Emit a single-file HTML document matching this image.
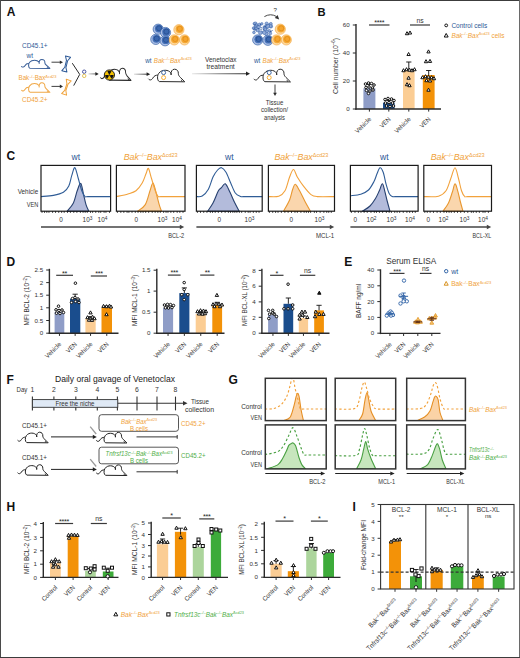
<!DOCTYPE html>
<html><head><meta charset="utf-8"><title>Figure</title>
<style>
html,body{margin:0;padding:0;background:#fff;width:520px;height:658px;overflow:hidden}
svg{display:block}
text{font-family:"Liberation Sans", sans-serif}
</style></head>
<body>
<svg width="520" height="658" viewBox="0 0 520 658" font-family='"Liberation Sans", sans-serif'>
<rect x="0" y="0" width="520" height="658" fill="#fff"/>
<text x="6.70" y="15.90" font-size="12" fill="#111" font-weight="bold">A</text>
<text x="22.00" y="47.60" font-size="7" fill="#2c5896" textLength="25.5" lengthAdjust="spacingAndGlyphs">CD45.1+</text>
<text x="26.50" y="57.80" font-size="6.5" fill="#2c5896">wt</text>
<g transform="translate(21.60,59.40) scale(0.93,0.85)">
<path d="M0,8.3 C1,9.6 2.6,9.2 3.6,7.4 C4.5,5.8 6,4.7 7.9,5" fill="none" stroke="#3a5f98" stroke-width="1.1247320293685128" stroke-linecap="round"/>
<path d="M9,10.4 C7.2,9.6 7,5.5 8.6,3.4 C10,1.5 12,0.9 14,0.9 C16,0.9 17.8,1.8 18.6,3 Q19.1,4 18.9,4.8 C18.5,2 19.8,0 21.8,0 C23.8,0 25.2,1.5 25,3.8 C25,5 25.8,6 26.6,6.8 L30.4,10.6 Z" fill="#fff" stroke="#3a5f98" stroke-width="1.1247320293685128" stroke-linejoin="round"/>
<path d="M27.4,8.9 L28.2,10.5" fill="none" stroke="#3a5f98" stroke-width="0.8997856234948103"/>
</g>
<line x1="51.50" y1="62.20" x2="60.30" y2="62.20" stroke="#2b2b2b" stroke-width="0.9"/>
<path d="M63.00,62.20 L59.80,60.40 L59.80,64.00 Z" fill="#2b2b2b" stroke="none" stroke-width="0"/>
<g transform="translate(66.20,64.00) rotate(14)">
<path d="M-2.6,-7.50 L2.6,-7.50 L0.6,-3.50 L0.6,3.50 L2.6,7.50 L-2.6,7.50 L-0.6,3.50 L-0.6,-3.50 Z" fill="none" stroke="#2c5896" stroke-width="1.0" stroke-linejoin="round"/>
</g>
<text x="18.50" y="80.30" font-size="6.3" fill="#f0a23a" textLength="38" lengthAdjust="spacingAndGlyphs"><tspan>Bak</tspan><tspan dy="-2.4" font-size="4.0">&#8211;/&#8211;</tspan><tspan dy="2.4">Bax</tspan><tspan dy="-2.4" font-size="4.0">&#916;cd23</tspan></text>
<g transform="translate(21.60,82.80) scale(0.93,0.9)">
<path d="M0,8.3 C1,9.6 2.6,9.2 3.6,7.4 C4.5,5.8 6,4.7 7.9,5" fill="none" stroke="#f0a847" stroke-width="1.0930430596399214" stroke-linecap="round"/>
<path d="M9,10.4 C7.2,9.6 7,5.5 8.6,3.4 C10,1.5 12,0.9 14,0.9 C16,0.9 17.8,1.8 18.6,3 Q19.1,4 18.9,4.8 C18.5,2 19.8,0 21.8,0 C23.8,0 25.2,1.5 25,3.8 C25,5 25.8,6 26.6,6.8 L30.4,10.6 Z" fill="#fff" stroke="#f0a847" stroke-width="1.0930430596399214" stroke-linejoin="round"/>
<path d="M27.4,8.9 L28.2,10.5" fill="none" stroke="#f0a847" stroke-width="0.8744344477119372"/>
</g>
<line x1="51.50" y1="86.40" x2="60.30" y2="86.40" stroke="#2b2b2b" stroke-width="0.9"/>
<path d="M63.00,86.40 L59.80,84.60 L59.80,88.20 Z" fill="#2b2b2b" stroke="none" stroke-width="0"/>
<g transform="translate(66.40,87.20) rotate(18)">
<path d="M-2.6,-7.50 L2.6,-7.50 L0.6,-3.50 L0.6,3.50 L2.6,7.50 L-2.6,7.50 L-0.6,3.50 L-0.6,-3.50 Z" fill="none" stroke="#f0a23a" stroke-width="1.0" stroke-linejoin="round"/>
</g>
<text x="22.00" y="101.60" font-size="7" fill="#f0a23a" textLength="25.5" lengthAdjust="spacingAndGlyphs">CD45.2+</text>
<path d="M72.3,63.2 L79.7,74.4 L73.7,85.6" fill="none" stroke="#2a2a2a" stroke-width="1.0"/>
<circle cx="84.20" cy="71.70" r="1.70" fill="none" stroke="#4a55a0" stroke-width="1.0"/>
<circle cx="84.20" cy="75.90" r="1.70" fill="none" stroke="#e5c455" stroke-width="1.0"/>
<line x1="88.50" y1="73.90" x2="96.00" y2="73.90" stroke="url(#ga3)" stroke-width="1.1"/>
<path d="M98.7,73.9 L95.4,72.1 L95.4,75.7 Z" fill="#222" stroke="none" stroke-width="0"/>
<g transform="translate(100.60,68.20) scale(1.0,1.15)">
<path d="M0,8.3 C1,9.6 2.6,9.2 3.6,7.4 C4.5,5.8 6,4.7 7.9,5" fill="none" stroke="#2b2b2b" stroke-width="0.9325048082403138" stroke-linecap="round"/>
<path d="M9,10.4 C7.2,9.6 7,5.5 8.6,3.4 C10,1.5 12,0.9 14,0.9 C16,0.9 17.8,1.8 18.6,3 Q19.1,4 18.9,4.8 C18.5,2 19.8,0 21.8,0 C23.8,0 25.2,1.5 25,3.8 C25,5 25.8,6 26.6,6.8 L30.4,10.6 Z" fill="#fff" stroke="#2b2b2b" stroke-width="0.9325048082403138" stroke-linejoin="round"/>
<path d="M27.4,8.9 L28.2,10.5" fill="none" stroke="#2b2b2b" stroke-width="0.746003846592251"/>
</g>
<circle cx="109.40" cy="75.00" r="5.10" fill="#f6c200" stroke="#111" stroke-width="0.9"/>
<path d="M108.85,74.05 L107.25,71.28 A4.3,4.3 0 0 1 111.55,71.28 L109.95,74.05 Z" fill="#111" stroke="none" stroke-width="0"/>
<path d="M110.50,75.00 L113.70,75.00 A4.3,4.3 0 0 1 111.55,78.72 L109.95,75.95 Z" fill="#111" stroke="none" stroke-width="0"/>
<path d="M108.85,75.95 L107.25,78.72 A4.3,4.3 0 0 1 105.10,75.00 L108.30,75.00 Z" fill="#111" stroke="none" stroke-width="0"/>
<circle cx="109.40" cy="75.00" r="0.75" fill="#111" stroke="none" stroke-width="0"/>
<line x1="134.00" y1="74.20" x2="147.50" y2="74.20" stroke="url(#ga2)" stroke-width="1.1"/>
<path d="M150.2,74.2 L146.6,72.3 L146.6,76.1 Z" fill="#222" stroke="none" stroke-width="0"/>
<g transform="translate(148.60,69.20) scale(1.19,1.19)">
<path d="M0,8.3 C1,9.6 2.6,9.2 3.6,7.4 C4.5,5.8 6,4.7 7.9,5" fill="none" stroke="#2b2b2b" stroke-width="0.8403361344537815" stroke-linecap="round"/>
<path d="M9,10.4 C7.2,9.6 7,5.5 8.6,3.4 C10,1.5 12,0.9 14,0.9 C16,0.9 17.8,1.8 18.6,3 Q19.1,4 18.9,4.8 C18.5,2 19.8,0 21.8,0 C23.8,0 25.2,1.5 25,3.8 C25,5 25.8,6 26.6,6.8 L30.4,10.6 Z" fill="#fff" stroke="#2b2b2b" stroke-width="0.8403361344537815" stroke-linejoin="round"/>
<path d="M27.4,8.9 L28.2,10.5" fill="none" stroke="#2b2b2b" stroke-width="0.6722689075630253"/>
</g>
<circle cx="163.60" cy="72.60" r="2.00" fill="#fff" stroke="#2c5896" stroke-width="0.9"/>
<circle cx="163.60" cy="77.60" r="2.00" fill="#fff" stroke="#f5a623" stroke-width="0.9"/>
<circle cx="158.20" cy="29.20" r="5.10" fill="#a9bde4" stroke="#3a64a8" stroke-width="0.7"/>
<circle cx="158.80" cy="28.60" r="3.88" fill="#4470b7" stroke="none" stroke-width="0"/>
<circle cx="159.10" cy="28.30" r="2.55" fill="#3a67ae" stroke="#24498a" stroke-width="0.7"/>
<circle cx="165.50" cy="32.50" r="5.10" fill="#a9bde4" stroke="#3a64a8" stroke-width="0.7"/>
<circle cx="166.10" cy="31.90" r="3.88" fill="#4470b7" stroke="none" stroke-width="0"/>
<circle cx="166.40" cy="31.60" r="2.55" fill="#3a67ae" stroke="#24498a" stroke-width="0.7"/>
<circle cx="155.80" cy="39.40" r="5.10" fill="#a9bde4" stroke="#3a64a8" stroke-width="0.7"/>
<circle cx="156.40" cy="38.80" r="3.88" fill="#4470b7" stroke="none" stroke-width="0"/>
<circle cx="156.70" cy="38.50" r="2.55" fill="#3a67ae" stroke="#24498a" stroke-width="0.7"/>
<circle cx="165.10" cy="40.80" r="5.10" fill="#a9bde4" stroke="#3a64a8" stroke-width="0.7"/>
<circle cx="165.70" cy="40.20" r="3.88" fill="#4470b7" stroke="none" stroke-width="0"/>
<circle cx="166.00" cy="39.90" r="2.55" fill="#3a67ae" stroke="#24498a" stroke-width="0.7"/>
<circle cx="178.90" cy="29.70" r="5.10" fill="#fdd99f" stroke="#f3ac4a" stroke-width="0.7"/>
<circle cx="179.50" cy="29.10" r="3.88" fill="#f6a935" stroke="none" stroke-width="0"/>
<circle cx="179.80" cy="28.80" r="2.55" fill="#f5a42e" stroke="#de8a14" stroke-width="0.7"/>
<circle cx="174.30" cy="39.90" r="5.10" fill="#fdd99f" stroke="#f3ac4a" stroke-width="0.7"/>
<circle cx="174.90" cy="39.30" r="3.88" fill="#f6a935" stroke="none" stroke-width="0"/>
<circle cx="175.20" cy="39.00" r="2.55" fill="#f5a42e" stroke="#de8a14" stroke-width="0.7"/>
<circle cx="184.50" cy="39.90" r="5.10" fill="#fdd99f" stroke="#f3ac4a" stroke-width="0.7"/>
<circle cx="185.10" cy="39.30" r="3.88" fill="#f6a935" stroke="none" stroke-width="0"/>
<circle cx="185.40" cy="39.00" r="2.55" fill="#f5a42e" stroke="#de8a14" stroke-width="0.7"/>
<text x="145.20" y="62.80" font-size="6.3" fill="#2c5896">wt</text>
<text x="153.80" y="62.80" font-size="6.3" fill="#f0a23a" textLength="38" lengthAdjust="spacingAndGlyphs"><tspan font-style="italic">Bak</tspan><tspan dy="-2.4" font-size="4.0">&#8211;/&#8211;</tspan><tspan dy="2.4" font-style="italic">Bax</tspan><tspan dy="-2.4" font-size="4.0">&#916;cd23</tspan></text>
<text x="220.80" y="61.50" font-size="7.2" fill="#333" text-anchor="middle" textLength="31.4" lengthAdjust="spacingAndGlyphs">Venetoclax</text>
<text x="220.60" y="69.00" font-size="7.2" fill="#333" text-anchor="middle" textLength="28.3" lengthAdjust="spacingAndGlyphs">treatment</text>
<linearGradient id="ga1" gradientUnits="userSpaceOnUse" x1="192" y1="0" x2="250" y2="0"><stop offset="0" stop-color="#e6e6e6"/><stop offset="0.5" stop-color="#777"/><stop offset="1" stop-color="#222"/></linearGradient>
<linearGradient id="ga2" gradientUnits="userSpaceOnUse" x1="134" y1="0" x2="150" y2="0"><stop offset="0" stop-color="#ddd"/><stop offset="1" stop-color="#222"/></linearGradient>
<linearGradient id="ga3" gradientUnits="userSpaceOnUse" x1="88" y1="0" x2="99" y2="0"><stop offset="0" stop-color="#ddd"/><stop offset="1" stop-color="#333"/></linearGradient>
<line x1="192.00" y1="73.70" x2="247.00" y2="73.70" stroke="url(#ga1)" stroke-width="1.1"/>
<path d="M250,73.7 L246,71.6 L246,75.8 Z" fill="#222" stroke="none" stroke-width="0"/>
<circle cx="259.64" cy="24.66" r="1.62" fill="#93acd9" stroke="#3d67ab" stroke-width="0.55"/>
<circle cx="254.48" cy="28.89" r="1.39" fill="#93acd9" stroke="#3d67ab" stroke-width="0.55"/>
<circle cx="254.19" cy="28.58" r="1.13" fill="#93acd9" stroke="#3d67ab" stroke-width="0.55"/>
<circle cx="261.89" cy="23.77" r="1.17" fill="#93acd9" stroke="#3d67ab" stroke-width="0.55"/>
<circle cx="261.70" cy="32.10" r="1.20" fill="#93acd9" stroke="#3d67ab" stroke-width="0.55"/>
<circle cx="257.58" cy="29.90" r="1.86" fill="#93acd9" stroke="#3d67ab" stroke-width="0.55"/>
<circle cx="264.83" cy="27.36" r="1.88" fill="#93acd9" stroke="#3d67ab" stroke-width="0.55"/>
<circle cx="253.95" cy="32.44" r="1.33" fill="#93acd9" stroke="#3d67ab" stroke-width="0.55"/>
<circle cx="255.96" cy="24.30" r="1.35" fill="#93acd9" stroke="#3d67ab" stroke-width="0.55"/>
<circle cx="269.73" cy="24.99" r="1.57" fill="#93acd9" stroke="#3d67ab" stroke-width="0.55"/>
<circle cx="266.10" cy="27.10" r="1.54" fill="#93acd9" stroke="#3d67ab" stroke-width="0.55"/>
<circle cx="254.29" cy="23.66" r="1.26" fill="#93acd9" stroke="#3d67ab" stroke-width="0.55"/>
<circle cx="266.95" cy="27.70" r="1.35" fill="#93acd9" stroke="#3d67ab" stroke-width="0.55"/>
<circle cx="265.00" cy="27.99" r="1.34" fill="#93acd9" stroke="#3d67ab" stroke-width="0.55"/>
<circle cx="269.28" cy="30.69" r="1.30" fill="#93acd9" stroke="#3d67ab" stroke-width="0.55"/>
<circle cx="264.78" cy="28.78" r="1.80" fill="#93acd9" stroke="#3d67ab" stroke-width="0.55"/>
<circle cx="267.95" cy="26.17" r="1.88" fill="#93acd9" stroke="#3d67ab" stroke-width="0.55"/>
<circle cx="255.42" cy="27.60" r="1.71" fill="#93acd9" stroke="#3d67ab" stroke-width="0.55"/>
<circle cx="256.12" cy="28.38" r="1.13" fill="#93acd9" stroke="#3d67ab" stroke-width="0.55"/>
<circle cx="266.70" cy="31.41" r="1.56" fill="#93acd9" stroke="#3d67ab" stroke-width="0.55"/>
<circle cx="270.95" cy="26.45" r="1.66" fill="#93acd9" stroke="#3d67ab" stroke-width="0.55"/>
<circle cx="265.18" cy="29.38" r="1.46" fill="#93acd9" stroke="#3d67ab" stroke-width="0.55"/>
<circle cx="270.22" cy="33.39" r="1.48" fill="#93acd9" stroke="#3d67ab" stroke-width="0.55"/>
<circle cx="266.62" cy="23.67" r="1.66" fill="#93acd9" stroke="#3d67ab" stroke-width="0.55"/>
<circle cx="266.27" cy="33.92" r="1.76" fill="#93acd9" stroke="#3d67ab" stroke-width="0.55"/>
<circle cx="258.83" cy="27.24" r="1.63" fill="#93acd9" stroke="#3d67ab" stroke-width="0.55"/>
<circle cx="253.46" cy="28.08" r="1.23" fill="#93acd9" stroke="#3d67ab" stroke-width="0.55"/>
<circle cx="255.40" cy="23.65" r="1.71" fill="#93acd9" stroke="#3d67ab" stroke-width="0.55"/>
<circle cx="255.65" cy="25.72" r="1.41" fill="#93acd9" stroke="#3d67ab" stroke-width="0.55"/>
<circle cx="270.86" cy="23.89" r="1.46" fill="#93acd9" stroke="#3d67ab" stroke-width="0.55"/>
<circle cx="264.26" cy="32.72" r="1.76" fill="#93acd9" stroke="#3d67ab" stroke-width="0.55"/>
<circle cx="270.71" cy="26.06" r="1.43" fill="#93acd9" stroke="#3d67ab" stroke-width="0.55"/>
<circle cx="260.35" cy="32.73" r="1.87" fill="#93acd9" stroke="#3d67ab" stroke-width="0.55"/>
<circle cx="256.09" cy="24.94" r="1.29" fill="#93acd9" stroke="#3d67ab" stroke-width="0.55"/>
<circle cx="258.43" cy="28.61" r="0.55" fill="#2d5598" stroke="none" stroke-width="0"/>
<circle cx="265.19" cy="26.50" r="0.55" fill="#2d5598" stroke="none" stroke-width="0"/>
<circle cx="254.08" cy="27.98" r="0.55" fill="#2d5598" stroke="none" stroke-width="0"/>
<circle cx="261.02" cy="29.38" r="0.55" fill="#2d5598" stroke="none" stroke-width="0"/>
<circle cx="272.11" cy="30.56" r="0.55" fill="#2d5598" stroke="none" stroke-width="0"/>
<circle cx="263.79" cy="29.87" r="0.55" fill="#2d5598" stroke="none" stroke-width="0"/>
<circle cx="266.85" cy="24.51" r="0.55" fill="#2d5598" stroke="none" stroke-width="0"/>
<circle cx="271.09" cy="31.41" r="0.55" fill="#2d5598" stroke="none" stroke-width="0"/>
<circle cx="270.62" cy="31.58" r="0.55" fill="#2d5598" stroke="none" stroke-width="0"/>
<circle cx="261.46" cy="27.79" r="0.55" fill="#2d5598" stroke="none" stroke-width="0"/>
<circle cx="255.97" cy="30.03" r="0.55" fill="#2d5598" stroke="none" stroke-width="0"/>
<circle cx="255.18" cy="24.64" r="0.55" fill="#2d5598" stroke="none" stroke-width="0"/>
<circle cx="257.97" cy="25.54" r="0.55" fill="#2d5598" stroke="none" stroke-width="0"/>
<circle cx="260.46" cy="24.50" r="0.55" fill="#2d5598" stroke="none" stroke-width="0"/>
<circle cx="257.70" cy="39.90" r="5.10" fill="#a9bde4" stroke="#3a64a8" stroke-width="0.7"/>
<circle cx="258.30" cy="39.30" r="3.88" fill="#4470b7" stroke="none" stroke-width="0"/>
<circle cx="258.60" cy="39.00" r="2.55" fill="#3a67ae" stroke="#24498a" stroke-width="0.7"/>
<circle cx="267.90" cy="40.30" r="5.10" fill="#a9bde4" stroke="#3a64a8" stroke-width="0.7"/>
<circle cx="268.50" cy="39.70" r="3.88" fill="#4470b7" stroke="none" stroke-width="0"/>
<circle cx="268.80" cy="39.40" r="2.55" fill="#3a67ae" stroke="#24498a" stroke-width="0.7"/>
<circle cx="280.30" cy="29.20" r="5.10" fill="#fdd99f" stroke="#f3ac4a" stroke-width="0.7"/>
<circle cx="280.90" cy="28.60" r="3.88" fill="#f6a935" stroke="none" stroke-width="0"/>
<circle cx="281.20" cy="28.30" r="2.55" fill="#f5a42e" stroke="#de8a14" stroke-width="0.7"/>
<circle cx="276.60" cy="39.90" r="5.10" fill="#fdd99f" stroke="#f3ac4a" stroke-width="0.7"/>
<circle cx="277.20" cy="39.30" r="3.88" fill="#f6a935" stroke="none" stroke-width="0"/>
<circle cx="277.50" cy="39.00" r="2.55" fill="#f5a42e" stroke="#de8a14" stroke-width="0.7"/>
<circle cx="286.30" cy="39.90" r="5.10" fill="#fdd99f" stroke="#f3ac4a" stroke-width="0.7"/>
<circle cx="286.90" cy="39.30" r="3.88" fill="#f6a935" stroke="none" stroke-width="0"/>
<circle cx="287.20" cy="39.00" r="2.55" fill="#f5a42e" stroke="#de8a14" stroke-width="0.7"/>
<text x="275.30" y="11.60" font-size="6.2" fill="#333" text-anchor="middle">?</text>
<path d="M264.4,16.6 Q270.5,13 276.5,16.5" fill="none" stroke="#333" stroke-width="0.9"/>
<path d="M279.2,19.4 L274.8,17.9 L277.6,15.0 Z" fill="#333" stroke="none" stroke-width="0"/>
<text x="254.00" y="62.80" font-size="6.3" fill="#2c5896">wt</text>
<text x="262.50" y="62.80" font-size="6.3" fill="#f0a23a" textLength="38" lengthAdjust="spacingAndGlyphs"><tspan font-style="italic">Bak</tspan><tspan dy="-2.4" font-size="4.0">&#8211;/&#8211;</tspan><tspan dy="2.4" font-style="italic">Bax</tspan><tspan dy="-2.4" font-size="4.0">&#916;cd23</tspan></text>
<g transform="translate(254.00,69.20) scale(1.2,1.2)">
<path d="M0,8.3 C1,9.6 2.6,9.2 3.6,7.4 C4.5,5.8 6,4.7 7.9,5" fill="none" stroke="#2b2b2b" stroke-width="0.8333333333333334" stroke-linecap="round"/>
<path d="M9,10.4 C7.2,9.6 7,5.5 8.6,3.4 C10,1.5 12,0.9 14,0.9 C16,0.9 17.8,1.8 18.6,3 Q19.1,4 18.9,4.8 C18.5,2 19.8,0 21.8,0 C23.8,0 25.2,1.5 25,3.8 C25,5 25.8,6 26.6,6.8 L30.4,10.6 Z" fill="#fff" stroke="#2b2b2b" stroke-width="0.8333333333333334" stroke-linejoin="round"/>
<path d="M27.4,8.9 L28.2,10.5" fill="none" stroke="#2b2b2b" stroke-width="0.6666666666666667"/>
</g>
<circle cx="269.20" cy="72.60" r="2.00" fill="#fff" stroke="#2c5896" stroke-width="0.9"/>
<circle cx="269.20" cy="77.60" r="2.00" fill="#fff" stroke="#f5a623" stroke-width="0.9"/>
<line x1="275.00" y1="84.50" x2="275.00" y2="93.30" stroke="#2b2b2b" stroke-width="0.9"/>
<path d="M275.00,96.00 L273.20,92.80 L276.80,92.80 Z" fill="#2b2b2b" stroke="none" stroke-width="0"/>
<text x="274.50" y="104.80" font-size="7" fill="#333" text-anchor="middle" textLength="17.5" lengthAdjust="spacingAndGlyphs">Tissue</text>
<text x="274.50" y="112.40" font-size="7" fill="#333" text-anchor="middle" textLength="27" lengthAdjust="spacingAndGlyphs">collection/</text>
<text x="274.50" y="120.00" font-size="7" fill="#333" text-anchor="middle" textLength="21" lengthAdjust="spacingAndGlyphs">analysis</text>
<text x="317.40" y="16.30" font-size="11.2" fill="#111" font-weight="bold">B</text>
<rect x="363.40" y="88.30" width="12.00" height="20.70" fill="#8f9dc7" stroke="none" stroke-width="1"/>
<rect x="383.00" y="102.70" width="11.60" height="6.30" fill="#1a4d8d" stroke="none" stroke-width="1"/>
<rect x="403.00" y="70.50" width="11.60" height="38.50" fill="#fbcd94" stroke="none" stroke-width="1"/>
<rect x="422.80" y="75.00" width="11.80" height="34.00" fill="#f39208" stroke="none" stroke-width="1"/>
<line x1="356.00" y1="24.00" x2="356.00" y2="109.70" stroke="#2b2b2b" stroke-width="1.4"/>
<line x1="355.30" y1="109.00" x2="441.00" y2="109.00" stroke="#2b2b2b" stroke-width="1.4"/>
<line x1="352.80" y1="25.00" x2="356.00" y2="25.00" stroke="#2b2b2b" stroke-width="1.0"/>
<text x="349.70" y="27.20" font-size="6.2" fill="#333" text-anchor="end">60</text>
<line x1="352.80" y1="53.00" x2="356.00" y2="53.00" stroke="#2b2b2b" stroke-width="1.0"/>
<text x="349.70" y="55.20" font-size="6.2" fill="#333" text-anchor="end">40</text>
<line x1="352.80" y1="81.00" x2="356.00" y2="81.00" stroke="#2b2b2b" stroke-width="1.0"/>
<text x="349.70" y="83.20" font-size="6.2" fill="#333" text-anchor="end">20</text>
<line x1="352.80" y1="109.00" x2="356.00" y2="109.00" stroke="#2b2b2b" stroke-width="1.0"/>
<text x="349.70" y="111.20" font-size="6.2" fill="#333" text-anchor="end">0</text>
<line x1="369.40" y1="109.00" x2="369.40" y2="111.60" stroke="#2b2b2b" stroke-width="1.0"/>
<line x1="388.80" y1="109.00" x2="388.80" y2="111.60" stroke="#2b2b2b" stroke-width="1.0"/>
<line x1="408.80" y1="109.00" x2="408.80" y2="111.60" stroke="#2b2b2b" stroke-width="1.0"/>
<line x1="428.70" y1="109.00" x2="428.70" y2="111.60" stroke="#2b2b2b" stroke-width="1.0"/>
<text x="337.60" y="66.00" font-size="7" fill="#333" text-anchor="middle" transform="rotate(-90 337.60 66.00)" textLength="56" lengthAdjust="spacingAndGlyphs">Cell number (10<tspan dy="-2.4" font-size="4.5">&#8211;6</tspan><tspan dy="2.4">)</tspan></text>
<line x1="369.00" y1="25.00" x2="389.50" y2="25.00" stroke="#3a3a3a" stroke-width="1.2"/>
<text x="379.25" y="25.30" font-size="7.2" fill="#222" text-anchor="middle" letter-spacing="-0.3">****</text>
<line x1="410.00" y1="25.00" x2="430.00" y2="25.00" stroke="#3a3a3a" stroke-width="1.2"/>
<text x="420.00" y="22.50" font-size="6.8" fill="#333" text-anchor="middle">ns</text>
<line x1="369.40" y1="88.30" x2="369.40" y2="84.50" stroke="#111" stroke-width="0.9"/>
<line x1="366.80" y1="84.50" x2="372.00" y2="84.50" stroke="#111" stroke-width="0.9"/>
<line x1="388.80" y1="102.70" x2="388.80" y2="100.50" stroke="#111" stroke-width="0.9"/>
<line x1="386.20" y1="100.50" x2="391.40" y2="100.50" stroke="#111" stroke-width="0.9"/>
<line x1="408.80" y1="70.50" x2="408.80" y2="62.00" stroke="#111" stroke-width="0.9"/>
<line x1="406.20" y1="62.00" x2="411.40" y2="62.00" stroke="#111" stroke-width="0.9"/>
<line x1="428.70" y1="75.00" x2="428.70" y2="70.50" stroke="#111" stroke-width="0.9"/>
<line x1="426.10" y1="70.50" x2="431.30" y2="70.50" stroke="#111" stroke-width="0.9"/>
<circle cx="365.50" cy="84.00" r="1.28" fill="#fff" stroke="#111" stroke-width="1.0"/>
<circle cx="368.50" cy="83.00" r="1.28" fill="#fff" stroke="#111" stroke-width="1.0"/>
<circle cx="371.50" cy="83.50" r="1.28" fill="#fff" stroke="#111" stroke-width="1.0"/>
<circle cx="374.00" cy="85.00" r="1.28" fill="#fff" stroke="#111" stroke-width="1.0"/>
<circle cx="366.00" cy="87.50" r="1.28" fill="#fff" stroke="#111" stroke-width="1.0"/>
<circle cx="369.00" cy="87.00" r="1.28" fill="#fff" stroke="#111" stroke-width="1.0"/>
<circle cx="372.50" cy="88.00" r="1.28" fill="#fff" stroke="#111" stroke-width="1.0"/>
<circle cx="366.50" cy="90.50" r="1.28" fill="#fff" stroke="#111" stroke-width="1.0"/>
<circle cx="370.00" cy="91.00" r="1.28" fill="#fff" stroke="#111" stroke-width="1.0"/>
<circle cx="373.00" cy="90.00" r="1.28" fill="#fff" stroke="#111" stroke-width="1.0"/>
<circle cx="368.50" cy="93.50" r="1.28" fill="#fff" stroke="#111" stroke-width="1.0"/>
<circle cx="385.00" cy="99.50" r="1.28" fill="#fff" stroke="#111" stroke-width="1.0"/>
<circle cx="388.00" cy="98.50" r="1.28" fill="#fff" stroke="#111" stroke-width="1.0"/>
<circle cx="391.50" cy="99.00" r="1.28" fill="#fff" stroke="#111" stroke-width="1.0"/>
<circle cx="394.00" cy="100.50" r="1.28" fill="#fff" stroke="#111" stroke-width="1.0"/>
<circle cx="385.50" cy="103.00" r="1.28" fill="#fff" stroke="#111" stroke-width="1.0"/>
<circle cx="389.00" cy="102.50" r="1.28" fill="#fff" stroke="#111" stroke-width="1.0"/>
<circle cx="392.50" cy="103.00" r="1.28" fill="#fff" stroke="#111" stroke-width="1.0"/>
<circle cx="386.50" cy="106.00" r="1.28" fill="#fff" stroke="#111" stroke-width="1.0"/>
<circle cx="390.00" cy="106.50" r="1.28" fill="#fff" stroke="#111" stroke-width="1.0"/>
<circle cx="393.50" cy="106.00" r="1.28" fill="#fff" stroke="#111" stroke-width="1.0"/>
<path d="M407.00,31.67 L408.67,34.72 L405.33,34.72 Z" fill="#fff" stroke="#111" stroke-width="1.0"/>
<path d="M410.00,30.97 L411.67,34.02 L408.33,34.02 Z" fill="#fff" stroke="#111" stroke-width="1.0"/>
<path d="M408.60,52.47 L410.27,55.52 L406.93,55.52 Z" fill="#fff" stroke="#111" stroke-width="1.0"/>
<path d="M403.50,68.67 L405.17,71.72 L401.83,71.72 Z" fill="#fff" stroke="#111" stroke-width="1.0"/>
<path d="M406.50,67.67 L408.17,70.72 L404.83,70.72 Z" fill="#fff" stroke="#111" stroke-width="1.0"/>
<path d="M409.50,68.17 L411.17,71.22 L407.83,71.22 Z" fill="#fff" stroke="#111" stroke-width="1.0"/>
<path d="M412.00,68.67 L413.67,71.72 L410.33,71.72 Z" fill="#fff" stroke="#111" stroke-width="1.0"/>
<path d="M414.50,67.67 L416.17,70.72 L412.83,70.72 Z" fill="#fff" stroke="#111" stroke-width="1.0"/>
<path d="M408.60,76.17 L410.27,79.22 L406.93,79.22 Z" fill="#fff" stroke="#111" stroke-width="1.0"/>
<path d="M407.00,82.67 L408.67,85.72 L405.33,85.72 Z" fill="#fff" stroke="#111" stroke-width="1.0"/>
<path d="M409.50,83.67 L411.17,86.72 L407.83,86.72 Z" fill="#fff" stroke="#111" stroke-width="1.0"/>
<path d="M428.50,49.87 L430.17,52.92 L426.83,52.92 Z" fill="#fff" stroke="#111" stroke-width="1.0"/>
<path d="M426.00,59.67 L427.67,62.72 L424.33,62.72 Z" fill="#fff" stroke="#111" stroke-width="1.0"/>
<path d="M430.00,59.37 L431.67,62.42 L428.33,62.42 Z" fill="#fff" stroke="#111" stroke-width="1.0"/>
<path d="M422.50,75.67 L424.17,78.72 L420.83,78.72 Z" fill="#fff" stroke="#111" stroke-width="1.0"/>
<path d="M425.50,74.67 L427.17,77.72 L423.83,77.72 Z" fill="#fff" stroke="#111" stroke-width="1.0"/>
<path d="M428.50,75.17 L430.17,78.22 L426.83,78.22 Z" fill="#fff" stroke="#111" stroke-width="1.0"/>
<path d="M431.50,75.67 L433.17,78.72 L429.83,78.72 Z" fill="#fff" stroke="#111" stroke-width="1.0"/>
<path d="M434.00,76.67 L435.67,79.72 L432.33,79.72 Z" fill="#fff" stroke="#111" stroke-width="1.0"/>
<path d="M426.50,78.67 L428.17,81.72 L424.83,81.72 Z" fill="#fff" stroke="#111" stroke-width="1.0"/>
<path d="M430.00,78.97 L431.67,82.02 L428.33,82.02 Z" fill="#fff" stroke="#111" stroke-width="1.0"/>
<path d="M428.50,88.17 L430.17,91.22 L426.83,91.22 Z" fill="#fff" stroke="#111" stroke-width="1.0"/>
<text x="371.70" y="119.60" font-size="6.4" fill="#333" text-anchor="end" transform="rotate(-45 371.70 119.60)" textLength="20.1" lengthAdjust="spacingAndGlyphs">Vehicle</text>
<text x="391.10" y="119.60" font-size="6.4" fill="#333" text-anchor="end" transform="rotate(-45 391.10 119.60)" textLength="12.5" lengthAdjust="spacingAndGlyphs">VEN</text>
<text x="411.10" y="119.60" font-size="6.4" fill="#333" text-anchor="end" transform="rotate(-45 411.10 119.60)" textLength="20.1" lengthAdjust="spacingAndGlyphs">Vehicle</text>
<text x="431.00" y="119.60" font-size="6.4" fill="#333" text-anchor="end" transform="rotate(-45 431.00 119.60)" textLength="12.5" lengthAdjust="spacingAndGlyphs">VEN</text>
<circle cx="446.20" cy="25.40" r="1.41" fill="#fff" stroke="#111" stroke-width="1.0"/>
<text x="451.40" y="27.90" font-size="7" fill="#2c5896" textLength="35.8" lengthAdjust="spacingAndGlyphs">Control cells</text>
<path d="M446.20,33.46 L448.16,37.03 L444.24,37.03 Z" fill="#fff" stroke="#111" stroke-width="1.0"/>
<text x="451.40" y="38.00" font-size="7" fill="#f0a23a" textLength="53" lengthAdjust="spacingAndGlyphs"><tspan font-style="italic">Bak</tspan><tspan dy="-2.6" font-size="4.2">&#8211;/&#8211;</tspan><tspan dy="2.6" font-style="italic">Bax</tspan><tspan dy="-2.6" font-size="4.2">&#916;cd23</tspan><tspan dy="2.6"> cells</tspan></text>
<text x="6.40" y="159.50" font-size="12" fill="#111" font-weight="bold">C</text>
<path d="M67.20,211.20 C68.23,209.83 71.73,206.40 73.40,203.00 C75.07,199.60 75.97,194.07 77.20,190.80 C78.43,187.53 79.77,182.90 80.80,183.40 C81.83,183.90 82.53,190.27 83.40,193.80 C84.27,197.33 85.10,201.70 86.00,204.60 C86.90,207.50 88.33,210.10 88.80,211.20 Z" fill="#b3bbdb" stroke="#27406f" stroke-width="1.1" stroke-linejoin="round"/>
<path d="M41.00,196.60 C43.07,196.40 49.67,196.12 53.40,195.40 C57.13,194.68 60.83,193.87 63.40,192.30 C65.97,190.73 67.40,188.82 68.80,186.00 C70.20,183.18 70.78,178.45 71.80,175.40 C72.82,172.35 73.82,167.18 74.90,167.70 C75.98,168.22 77.15,174.65 78.30,178.50 C79.45,182.35 80.70,187.82 81.80,190.80 C82.90,193.78 83.87,195.43 84.90,196.40 C85.93,197.37 83.72,196.57 88.00,196.60 C92.28,196.63 106.83,196.60 110.60,196.60" fill="none" stroke="#2f5c96" stroke-width="1.1" stroke-linejoin="round"/>
<rect x="41.00" y="165.40" width="69.60" height="45.80" fill="none" stroke="#1a1a1a" stroke-width="1.2"/>
<line x1="42.00" y1="211.20" x2="42.00" y2="212.90" stroke="#111" stroke-width="0.8"/>
<line x1="44.56" y1="211.20" x2="44.56" y2="212.90" stroke="#111" stroke-width="0.8"/>
<line x1="46.82" y1="211.20" x2="46.82" y2="212.90" stroke="#111" stroke-width="0.8"/>
<line x1="48.96" y1="211.20" x2="48.96" y2="212.90" stroke="#111" stroke-width="0.8"/>
<line x1="52.58" y1="211.20" x2="52.58" y2="212.90" stroke="#111" stroke-width="0.8"/>
<line x1="55.54" y1="211.20" x2="55.54" y2="212.90" stroke="#111" stroke-width="0.8"/>
<line x1="58.72" y1="211.20" x2="58.72" y2="212.90" stroke="#111" stroke-width="0.8"/>
<line x1="61.63" y1="211.20" x2="61.63" y2="212.90" stroke="#111" stroke-width="0.8"/>
<line x1="64.19" y1="211.20" x2="64.19" y2="212.90" stroke="#111" stroke-width="0.8"/>
<line x1="67.46" y1="211.20" x2="67.46" y2="212.90" stroke="#111" stroke-width="0.8"/>
<line x1="70.41" y1="211.20" x2="70.41" y2="212.90" stroke="#111" stroke-width="0.8"/>
<line x1="73.77" y1="211.20" x2="73.77" y2="212.90" stroke="#111" stroke-width="0.8"/>
<line x1="76.89" y1="211.20" x2="76.89" y2="212.90" stroke="#111" stroke-width="0.8"/>
<line x1="80.37" y1="211.20" x2="80.37" y2="212.90" stroke="#111" stroke-width="0.8"/>
<line x1="83.05" y1="211.20" x2="83.05" y2="212.90" stroke="#111" stroke-width="0.8"/>
<line x1="85.16" y1="211.20" x2="85.16" y2="212.90" stroke="#111" stroke-width="0.8"/>
<line x1="87.26" y1="211.20" x2="87.26" y2="212.90" stroke="#111" stroke-width="0.8"/>
<line x1="90.51" y1="211.20" x2="90.51" y2="212.90" stroke="#111" stroke-width="0.8"/>
<line x1="92.64" y1="211.20" x2="92.64" y2="212.90" stroke="#111" stroke-width="0.8"/>
<line x1="95.75" y1="211.20" x2="95.75" y2="212.90" stroke="#111" stroke-width="0.8"/>
<line x1="98.79" y1="211.20" x2="98.79" y2="212.90" stroke="#111" stroke-width="0.8"/>
<line x1="100.71" y1="211.20" x2="100.71" y2="212.90" stroke="#111" stroke-width="0.8"/>
<line x1="104.08" y1="211.20" x2="104.08" y2="212.90" stroke="#111" stroke-width="0.8"/>
<line x1="105.95" y1="211.20" x2="105.95" y2="212.90" stroke="#111" stroke-width="0.8"/>
<line x1="109.48" y1="211.20" x2="109.48" y2="212.90" stroke="#111" stroke-width="0.8"/>
<text x="75.80" y="160.20" font-size="8.6" fill="#2c5896" text-anchor="middle">wt</text>
<path d="M137.60,211.20 C138.88,210.10 143.23,208.00 145.30,204.60 C147.37,201.20 148.72,194.40 150.00,190.80 C151.28,187.20 152.00,182.75 153.00,183.00 C154.00,183.25 154.97,188.70 156.00,192.30 C157.03,195.90 158.28,201.45 159.20,204.60 C160.12,207.75 161.12,210.10 161.50,211.20 Z" fill="#fad6ad" stroke="#e8962e" stroke-width="1.1" stroke-linejoin="round"/>
<path d="M116.40,196.60 C118.33,196.17 124.73,194.97 128.00,194.00 C131.27,193.03 133.63,192.63 136.00,190.80 C138.37,188.97 140.53,185.83 142.20,183.00 C143.87,180.17 144.97,176.22 146.00,173.80 C147.03,171.38 147.48,167.72 148.40,168.50 C149.32,169.28 150.35,174.78 151.50,178.50 C152.65,182.22 154.22,187.82 155.30,190.80 C156.38,193.78 157.05,195.43 158.00,196.40 C158.95,197.37 156.50,196.57 161.00,196.60 C165.50,196.63 181.00,196.60 185.00,196.60" fill="none" stroke="#f2a23c" stroke-width="1.1" stroke-linejoin="round"/>
<rect x="116.40" y="165.40" width="68.60" height="45.80" fill="none" stroke="#1a1a1a" stroke-width="1.2"/>
<line x1="117.40" y1="211.20" x2="117.40" y2="212.90" stroke="#111" stroke-width="0.8"/>
<line x1="120.84" y1="211.20" x2="120.84" y2="212.90" stroke="#111" stroke-width="0.8"/>
<line x1="123.84" y1="211.20" x2="123.84" y2="212.90" stroke="#111" stroke-width="0.8"/>
<line x1="127.09" y1="211.20" x2="127.09" y2="212.90" stroke="#111" stroke-width="0.8"/>
<line x1="128.90" y1="211.20" x2="128.90" y2="212.90" stroke="#111" stroke-width="0.8"/>
<line x1="132.00" y1="211.20" x2="132.00" y2="212.90" stroke="#111" stroke-width="0.8"/>
<line x1="135.27" y1="211.20" x2="135.27" y2="212.90" stroke="#111" stroke-width="0.8"/>
<line x1="138.03" y1="211.20" x2="138.03" y2="212.90" stroke="#111" stroke-width="0.8"/>
<line x1="140.80" y1="211.20" x2="140.80" y2="212.90" stroke="#111" stroke-width="0.8"/>
<line x1="143.09" y1="211.20" x2="143.09" y2="212.90" stroke="#111" stroke-width="0.8"/>
<line x1="145.71" y1="211.20" x2="145.71" y2="212.90" stroke="#111" stroke-width="0.8"/>
<line x1="148.68" y1="211.20" x2="148.68" y2="212.90" stroke="#111" stroke-width="0.8"/>
<line x1="152.21" y1="211.20" x2="152.21" y2="212.90" stroke="#111" stroke-width="0.8"/>
<line x1="155.15" y1="211.20" x2="155.15" y2="212.90" stroke="#111" stroke-width="0.8"/>
<line x1="157.86" y1="211.20" x2="157.86" y2="212.90" stroke="#111" stroke-width="0.8"/>
<line x1="160.29" y1="211.20" x2="160.29" y2="212.90" stroke="#111" stroke-width="0.8"/>
<line x1="163.61" y1="211.20" x2="163.61" y2="212.90" stroke="#111" stroke-width="0.8"/>
<line x1="166.05" y1="211.20" x2="166.05" y2="212.90" stroke="#111" stroke-width="0.8"/>
<line x1="167.96" y1="211.20" x2="167.96" y2="212.90" stroke="#111" stroke-width="0.8"/>
<line x1="170.87" y1="211.20" x2="170.87" y2="212.90" stroke="#111" stroke-width="0.8"/>
<line x1="173.71" y1="211.20" x2="173.71" y2="212.90" stroke="#111" stroke-width="0.8"/>
<line x1="177.17" y1="211.20" x2="177.17" y2="212.90" stroke="#111" stroke-width="0.8"/>
<line x1="179.84" y1="211.20" x2="179.84" y2="212.90" stroke="#111" stroke-width="0.8"/>
<line x1="183.01" y1="211.20" x2="183.01" y2="212.90" stroke="#111" stroke-width="0.8"/>
<text x="150.70" y="160.20" font-size="8.4" fill="#f0a23a" text-anchor="middle" textLength="54" lengthAdjust="spacingAndGlyphs"><tspan font-style="italic">Bak</tspan><tspan dy="-3.2" font-size="5.2">&#8211;/&#8211;</tspan><tspan dy="3.2" font-style="italic">Bax</tspan><tspan dy="-3.2" font-size="5.2">&#916;cd23</tspan></text>
<path d="M207.60,211.20 C208.50,209.83 211.20,206.40 213.00,203.00 C214.80,199.60 216.98,193.35 218.40,190.80 C219.82,188.25 220.35,188.87 221.50,187.70 C222.65,186.53 223.88,183.03 225.30,183.80 C226.72,184.57 228.47,189.22 230.00,192.30 C231.53,195.38 232.97,199.15 234.50,202.30 C236.03,205.45 238.42,209.72 239.20,211.20 Z" fill="#b3bbdb" stroke="#27406f" stroke-width="1.1" stroke-linejoin="round"/>
<path d="M196.40,196.60 C197.37,196.50 200.20,197.23 202.20,196.00 C204.20,194.77 206.60,192.37 208.40,189.20 C210.20,186.03 211.47,180.20 213.00,177.00 C214.53,173.80 216.18,171.55 217.60,170.00 C219.02,168.45 220.10,167.32 221.50,167.70 C222.90,168.08 224.47,169.75 226.00,172.30 C227.53,174.85 229.15,179.55 230.70,183.00 C232.25,186.45 233.63,190.75 235.30,193.00 C236.97,195.25 239.25,195.90 240.70,196.50 C242.15,197.10 240.42,196.58 244.00,196.60 C247.58,196.62 259.17,196.60 262.20,196.60" fill="none" stroke="#2f5c96" stroke-width="1.1" stroke-linejoin="round"/>
<rect x="196.40" y="165.40" width="65.80" height="45.80" fill="none" stroke="#1a1a1a" stroke-width="1.2"/>
<line x1="197.40" y1="211.20" x2="197.40" y2="212.90" stroke="#111" stroke-width="0.8"/>
<line x1="200.50" y1="211.20" x2="200.50" y2="212.90" stroke="#111" stroke-width="0.8"/>
<line x1="203.72" y1="211.20" x2="203.72" y2="212.90" stroke="#111" stroke-width="0.8"/>
<line x1="206.95" y1="211.20" x2="206.95" y2="212.90" stroke="#111" stroke-width="0.8"/>
<line x1="210.34" y1="211.20" x2="210.34" y2="212.90" stroke="#111" stroke-width="0.8"/>
<line x1="212.55" y1="211.20" x2="212.55" y2="212.90" stroke="#111" stroke-width="0.8"/>
<line x1="215.20" y1="211.20" x2="215.20" y2="212.90" stroke="#111" stroke-width="0.8"/>
<line x1="218.30" y1="211.20" x2="218.30" y2="212.90" stroke="#111" stroke-width="0.8"/>
<line x1="221.70" y1="211.20" x2="221.70" y2="212.90" stroke="#111" stroke-width="0.8"/>
<line x1="225.14" y1="211.20" x2="225.14" y2="212.90" stroke="#111" stroke-width="0.8"/>
<line x1="228.36" y1="211.20" x2="228.36" y2="212.90" stroke="#111" stroke-width="0.8"/>
<line x1="230.47" y1="211.20" x2="230.47" y2="212.90" stroke="#111" stroke-width="0.8"/>
<line x1="232.83" y1="211.20" x2="232.83" y2="212.90" stroke="#111" stroke-width="0.8"/>
<line x1="234.84" y1="211.20" x2="234.84" y2="212.90" stroke="#111" stroke-width="0.8"/>
<line x1="236.92" y1="211.20" x2="236.92" y2="212.90" stroke="#111" stroke-width="0.8"/>
<line x1="239.33" y1="211.20" x2="239.33" y2="212.90" stroke="#111" stroke-width="0.8"/>
<line x1="241.68" y1="211.20" x2="241.68" y2="212.90" stroke="#111" stroke-width="0.8"/>
<line x1="245.22" y1="211.20" x2="245.22" y2="212.90" stroke="#111" stroke-width="0.8"/>
<line x1="248.17" y1="211.20" x2="248.17" y2="212.90" stroke="#111" stroke-width="0.8"/>
<line x1="250.09" y1="211.20" x2="250.09" y2="212.90" stroke="#111" stroke-width="0.8"/>
<line x1="253.34" y1="211.20" x2="253.34" y2="212.90" stroke="#111" stroke-width="0.8"/>
<line x1="256.28" y1="211.20" x2="256.28" y2="212.90" stroke="#111" stroke-width="0.8"/>
<line x1="259.04" y1="211.20" x2="259.04" y2="212.90" stroke="#111" stroke-width="0.8"/>
<text x="229.30" y="160.20" font-size="8.6" fill="#2c5896" text-anchor="middle">wt</text>
<path d="M283.50,211.20 C284.52,209.33 288.07,203.67 289.60,200.00 C291.13,196.33 291.75,191.82 292.70,189.20 C293.65,186.58 294.15,184.03 295.30,184.30 C296.45,184.57 297.98,187.93 299.60,190.80 C301.22,193.67 303.20,198.10 305.00,201.50 C306.80,204.90 309.50,209.58 310.40,211.20 Z" fill="#fad6ad" stroke="#e8962e" stroke-width="1.1" stroke-linejoin="round"/>
<path d="M268.40,196.60 C270.13,196.53 276.03,197.17 278.80,196.20 C281.57,195.23 283.20,194.00 285.00,190.80 C286.80,187.60 288.18,180.55 289.60,177.00 C291.02,173.45 292.22,169.50 293.50,169.50 C294.78,169.50 295.63,174.22 297.30,177.00 C298.97,179.78 301.22,183.27 303.50,186.20 C305.78,189.13 308.70,192.87 311.00,194.60 C313.30,196.33 313.38,196.27 317.30,196.60 C321.22,196.93 331.63,196.60 334.50,196.60" fill="none" stroke="#f2a23c" stroke-width="1.1" stroke-linejoin="round"/>
<rect x="268.40" y="165.40" width="66.10" height="45.80" fill="none" stroke="#1a1a1a" stroke-width="1.2"/>
<line x1="269.40" y1="211.20" x2="269.40" y2="212.90" stroke="#111" stroke-width="0.8"/>
<line x1="272.71" y1="211.20" x2="272.71" y2="212.90" stroke="#111" stroke-width="0.8"/>
<line x1="275.58" y1="211.20" x2="275.58" y2="212.90" stroke="#111" stroke-width="0.8"/>
<line x1="278.02" y1="211.20" x2="278.02" y2="212.90" stroke="#111" stroke-width="0.8"/>
<line x1="281.38" y1="211.20" x2="281.38" y2="212.90" stroke="#111" stroke-width="0.8"/>
<line x1="284.86" y1="211.20" x2="284.86" y2="212.90" stroke="#111" stroke-width="0.8"/>
<line x1="288.11" y1="211.20" x2="288.11" y2="212.90" stroke="#111" stroke-width="0.8"/>
<line x1="291.51" y1="211.20" x2="291.51" y2="212.90" stroke="#111" stroke-width="0.8"/>
<line x1="294.98" y1="211.20" x2="294.98" y2="212.90" stroke="#111" stroke-width="0.8"/>
<line x1="297.33" y1="211.20" x2="297.33" y2="212.90" stroke="#111" stroke-width="0.8"/>
<line x1="300.90" y1="211.20" x2="300.90" y2="212.90" stroke="#111" stroke-width="0.8"/>
<line x1="304.12" y1="211.20" x2="304.12" y2="212.90" stroke="#111" stroke-width="0.8"/>
<line x1="306.37" y1="211.20" x2="306.37" y2="212.90" stroke="#111" stroke-width="0.8"/>
<line x1="308.48" y1="211.20" x2="308.48" y2="212.90" stroke="#111" stroke-width="0.8"/>
<line x1="310.64" y1="211.20" x2="310.64" y2="212.90" stroke="#111" stroke-width="0.8"/>
<line x1="314.36" y1="211.20" x2="314.36" y2="212.90" stroke="#111" stroke-width="0.8"/>
<line x1="316.56" y1="211.20" x2="316.56" y2="212.90" stroke="#111" stroke-width="0.8"/>
<line x1="320.13" y1="211.20" x2="320.13" y2="212.90" stroke="#111" stroke-width="0.8"/>
<line x1="323.86" y1="211.20" x2="323.86" y2="212.90" stroke="#111" stroke-width="0.8"/>
<line x1="326.76" y1="211.20" x2="326.76" y2="212.90" stroke="#111" stroke-width="0.8"/>
<line x1="328.76" y1="211.20" x2="328.76" y2="212.90" stroke="#111" stroke-width="0.8"/>
<line x1="331.28" y1="211.20" x2="331.28" y2="212.90" stroke="#111" stroke-width="0.8"/>
<text x="301.45" y="160.20" font-size="8.4" fill="#f0a23a" text-anchor="middle" textLength="54" lengthAdjust="spacingAndGlyphs"><tspan font-style="italic">Bak</tspan><tspan dy="-3.2" font-size="5.2">&#8211;/&#8211;</tspan><tspan dy="3.2" font-style="italic">Bax</tspan><tspan dy="-3.2" font-size="5.2">&#916;cd23</tspan></text>
<path d="M362.40,211.20 C363.67,210.33 367.82,208.12 370.00,206.00 C372.18,203.88 373.95,201.03 375.50,198.50 C377.05,195.97 378.15,193.25 379.30,190.80 C380.45,188.35 381.50,183.80 382.40,183.80 C383.30,183.80 383.88,187.85 384.70,190.80 C385.52,193.75 386.42,198.10 387.30,201.50 C388.18,204.90 389.55,209.58 390.00,211.20 Z" fill="#b3bbdb" stroke="#27406f" stroke-width="1.1" stroke-linejoin="round"/>
<path d="M350.40,195.70 C352.13,195.45 357.78,195.15 360.80,194.20 C363.82,193.25 366.30,192.12 368.50,190.00 C370.70,187.88 372.58,184.20 374.00,181.50 C375.42,178.80 376.00,176.10 377.00,173.80 C378.00,171.50 378.97,167.95 380.00,167.70 C381.03,167.45 382.17,169.48 383.20,172.30 C384.23,175.12 385.18,181.02 386.20,184.60 C387.22,188.18 388.27,191.82 389.30,193.80 C390.33,195.78 391.28,196.03 392.40,196.50 C393.52,196.97 391.72,196.58 396.00,196.60 C400.28,196.62 414.42,196.60 418.10,196.60" fill="none" stroke="#2f5c96" stroke-width="1.1" stroke-linejoin="round"/>
<rect x="350.40" y="165.40" width="67.70" height="45.80" fill="none" stroke="#1a1a1a" stroke-width="1.2"/>
<line x1="351.40" y1="211.20" x2="351.40" y2="212.90" stroke="#111" stroke-width="0.8"/>
<line x1="354.98" y1="211.20" x2="354.98" y2="212.90" stroke="#111" stroke-width="0.8"/>
<line x1="358.38" y1="211.20" x2="358.38" y2="212.90" stroke="#111" stroke-width="0.8"/>
<line x1="360.99" y1="211.20" x2="360.99" y2="212.90" stroke="#111" stroke-width="0.8"/>
<line x1="364.13" y1="211.20" x2="364.13" y2="212.90" stroke="#111" stroke-width="0.8"/>
<line x1="367.23" y1="211.20" x2="367.23" y2="212.90" stroke="#111" stroke-width="0.8"/>
<line x1="370.98" y1="211.20" x2="370.98" y2="212.90" stroke="#111" stroke-width="0.8"/>
<line x1="374.29" y1="211.20" x2="374.29" y2="212.90" stroke="#111" stroke-width="0.8"/>
<line x1="376.44" y1="211.20" x2="376.44" y2="212.90" stroke="#111" stroke-width="0.8"/>
<line x1="379.42" y1="211.20" x2="379.42" y2="212.90" stroke="#111" stroke-width="0.8"/>
<line x1="382.64" y1="211.20" x2="382.64" y2="212.90" stroke="#111" stroke-width="0.8"/>
<line x1="386.37" y1="211.20" x2="386.37" y2="212.90" stroke="#111" stroke-width="0.8"/>
<line x1="389.15" y1="211.20" x2="389.15" y2="212.90" stroke="#111" stroke-width="0.8"/>
<line x1="391.42" y1="211.20" x2="391.42" y2="212.90" stroke="#111" stroke-width="0.8"/>
<line x1="394.73" y1="211.20" x2="394.73" y2="212.90" stroke="#111" stroke-width="0.8"/>
<line x1="397.12" y1="211.20" x2="397.12" y2="212.90" stroke="#111" stroke-width="0.8"/>
<line x1="399.68" y1="211.20" x2="399.68" y2="212.90" stroke="#111" stroke-width="0.8"/>
<line x1="403.26" y1="211.20" x2="403.26" y2="212.90" stroke="#111" stroke-width="0.8"/>
<line x1="406.90" y1="211.20" x2="406.90" y2="212.90" stroke="#111" stroke-width="0.8"/>
<line x1="409.67" y1="211.20" x2="409.67" y2="212.90" stroke="#111" stroke-width="0.8"/>
<line x1="412.52" y1="211.20" x2="412.52" y2="212.90" stroke="#111" stroke-width="0.8"/>
<line x1="415.25" y1="211.20" x2="415.25" y2="212.90" stroke="#111" stroke-width="0.8"/>
<text x="384.25" y="160.20" font-size="8.6" fill="#2c5896" text-anchor="middle">wt</text>
<path d="M443.00,211.20 C443.92,209.83 446.95,206.15 448.50,203.00 C450.05,199.85 451.22,195.50 452.30,192.30 C453.38,189.10 454.10,184.05 455.00,183.80 C455.90,183.55 456.82,187.85 457.70,190.80 C458.58,193.75 459.42,198.10 460.30,201.50 C461.18,204.90 462.55,209.58 463.00,211.20 Z" fill="#fad6ad" stroke="#e8962e" stroke-width="1.1" stroke-linejoin="round"/>
<path d="M423.80,196.60 C426.25,196.53 434.80,197.17 438.50,196.20 C442.20,195.23 443.95,193.75 446.00,190.80 C448.05,187.85 449.30,182.35 450.80,178.50 C452.30,174.65 453.72,167.70 455.00,167.70 C456.28,167.70 457.42,174.65 458.50,178.50 C459.58,182.35 460.48,187.82 461.50,190.80 C462.52,193.78 463.52,195.43 464.60,196.40 C465.68,197.37 463.52,196.57 468.00,196.60 C472.48,196.63 487.58,196.60 491.50,196.60" fill="none" stroke="#f2a23c" stroke-width="1.1" stroke-linejoin="round"/>
<rect x="423.80" y="165.40" width="67.70" height="45.80" fill="none" stroke="#1a1a1a" stroke-width="1.2"/>
<line x1="424.80" y1="211.20" x2="424.80" y2="212.90" stroke="#111" stroke-width="0.8"/>
<line x1="427.25" y1="211.20" x2="427.25" y2="212.90" stroke="#111" stroke-width="0.8"/>
<line x1="430.13" y1="211.20" x2="430.13" y2="212.90" stroke="#111" stroke-width="0.8"/>
<line x1="433.46" y1="211.20" x2="433.46" y2="212.90" stroke="#111" stroke-width="0.8"/>
<line x1="437.10" y1="211.20" x2="437.10" y2="212.90" stroke="#111" stroke-width="0.8"/>
<line x1="440.31" y1="211.20" x2="440.31" y2="212.90" stroke="#111" stroke-width="0.8"/>
<line x1="443.98" y1="211.20" x2="443.98" y2="212.90" stroke="#111" stroke-width="0.8"/>
<line x1="446.64" y1="211.20" x2="446.64" y2="212.90" stroke="#111" stroke-width="0.8"/>
<line x1="449.07" y1="211.20" x2="449.07" y2="212.90" stroke="#111" stroke-width="0.8"/>
<line x1="451.31" y1="211.20" x2="451.31" y2="212.90" stroke="#111" stroke-width="0.8"/>
<line x1="454.32" y1="211.20" x2="454.32" y2="212.90" stroke="#111" stroke-width="0.8"/>
<line x1="457.51" y1="211.20" x2="457.51" y2="212.90" stroke="#111" stroke-width="0.8"/>
<line x1="460.70" y1="211.20" x2="460.70" y2="212.90" stroke="#111" stroke-width="0.8"/>
<line x1="464.33" y1="211.20" x2="464.33" y2="212.90" stroke="#111" stroke-width="0.8"/>
<line x1="467.78" y1="211.20" x2="467.78" y2="212.90" stroke="#111" stroke-width="0.8"/>
<line x1="471.34" y1="211.20" x2="471.34" y2="212.90" stroke="#111" stroke-width="0.8"/>
<line x1="473.33" y1="211.20" x2="473.33" y2="212.90" stroke="#111" stroke-width="0.8"/>
<line x1="476.27" y1="211.20" x2="476.27" y2="212.90" stroke="#111" stroke-width="0.8"/>
<line x1="479.35" y1="211.20" x2="479.35" y2="212.90" stroke="#111" stroke-width="0.8"/>
<line x1="483.01" y1="211.20" x2="483.01" y2="212.90" stroke="#111" stroke-width="0.8"/>
<line x1="485.02" y1="211.20" x2="485.02" y2="212.90" stroke="#111" stroke-width="0.8"/>
<line x1="488.38" y1="211.20" x2="488.38" y2="212.90" stroke="#111" stroke-width="0.8"/>
<text x="457.65" y="160.20" font-size="8.4" fill="#f0a23a" text-anchor="middle" textLength="54" lengthAdjust="spacingAndGlyphs"><tspan font-style="italic">Bak</tspan><tspan dy="-3.2" font-size="5.2">&#8211;/&#8211;</tspan><tspan dy="3.2" font-style="italic">Bax</tspan><tspan dy="-3.2" font-size="5.2">&#916;cd23</tspan></text>
<text x="38.20" y="194.20" font-size="6.6" fill="#333" text-anchor="end" textLength="20.5" lengthAdjust="spacingAndGlyphs">Vehicle</text>
<text x="38.20" y="207.20" font-size="6.6" fill="#333" text-anchor="end" textLength="11.5" lengthAdjust="spacingAndGlyphs">VEN</text>
<text x="61.00" y="222.40" font-size="6.4" fill="#333" text-anchor="middle">0</text>
<text x="87.50" y="222.40" font-size="6.4" fill="#333" text-anchor="middle">10<tspan dy="-2.6" font-size="4.8">3</tspan></text>
<text x="102.50" y="222.40" font-size="6.4" fill="#333" text-anchor="middle">10<tspan dy="-2.6" font-size="4.8">4</tspan></text>
<text x="136.30" y="222.40" font-size="6.4" fill="#333" text-anchor="middle">0</text>
<text x="162.50" y="222.40" font-size="6.4" fill="#333" text-anchor="middle">10<tspan dy="-2.6" font-size="4.8">3</tspan></text>
<text x="177.00" y="222.40" font-size="6.4" fill="#333" text-anchor="middle">10<tspan dy="-2.6" font-size="4.8">4</tspan></text>
<text x="219.20" y="222.40" font-size="6.4" fill="#333" text-anchor="middle">0</text>
<text x="249.50" y="222.40" font-size="6.4" fill="#333" text-anchor="middle">10<tspan dy="-2.6" font-size="4.8">3</tspan></text>
<text x="291.30" y="222.40" font-size="6.4" fill="#333" text-anchor="middle">0</text>
<text x="319.50" y="222.40" font-size="6.4" fill="#333" text-anchor="middle">10<tspan dy="-2.6" font-size="4.8">3</tspan></text>
<text x="355.30" y="222.40" font-size="6.4" fill="#333" text-anchor="middle">0</text>
<text x="371.50" y="222.40" font-size="6.4" fill="#333" text-anchor="middle">10<tspan dy="-2.6" font-size="4.8">2</tspan></text>
<text x="391.50" y="222.40" font-size="6.4" fill="#333" text-anchor="middle">10<tspan dy="-2.6" font-size="4.8">3</tspan></text>
<text x="410.00" y="222.40" font-size="6.4" fill="#333" text-anchor="middle">10<tspan dy="-2.6" font-size="4.8">4</tspan></text>
<text x="428.20" y="222.40" font-size="6.4" fill="#333" text-anchor="middle">0</text>
<text x="443.50" y="222.40" font-size="6.4" fill="#333" text-anchor="middle">10<tspan dy="-2.6" font-size="4.8">2</tspan></text>
<text x="464.50" y="222.40" font-size="6.4" fill="#333" text-anchor="middle">10<tspan dy="-2.6" font-size="4.8">3</tspan></text>
<text x="483.00" y="222.40" font-size="6.4" fill="#333" text-anchor="middle">10<tspan dy="-2.6" font-size="4.8">4</tspan></text>
<line x1="41.00" y1="227.00" x2="180.30" y2="227.00" stroke="#444" stroke-width="1.4"/>
<path d="M184.20,227.00 L179.80,224.80 L179.80,229.20 Z" fill="#444" stroke="none" stroke-width="0"/>
<text x="184.20" y="238.40" font-size="7.6" fill="#333" text-anchor="end" textLength="16" lengthAdjust="spacingAndGlyphs">BCL-2</text>
<line x1="196.40" y1="227.00" x2="330.30" y2="227.00" stroke="#444" stroke-width="1.4"/>
<path d="M334.20,227.00 L329.80,224.80 L329.80,229.20 Z" fill="#444" stroke="none" stroke-width="0"/>
<text x="334.20" y="238.40" font-size="7.6" fill="#333" text-anchor="end" textLength="18.2" lengthAdjust="spacingAndGlyphs">MCL-1</text>
<line x1="350.40" y1="227.00" x2="487.30" y2="227.00" stroke="#444" stroke-width="1.4"/>
<path d="M491.20,227.00 L486.80,224.80 L486.80,229.20 Z" fill="#444" stroke="none" stroke-width="0"/>
<text x="491.20" y="238.40" font-size="7.6" fill="#333" text-anchor="end" textLength="18.7" lengthAdjust="spacingAndGlyphs">BCL-XL</text>
<text x="6.40" y="265.70" font-size="12" fill="#111" font-weight="bold">D</text>
<rect x="54.60" y="312.00" width="9.70" height="21.30" fill="#8f9dc7" stroke="none" stroke-width="1"/>
<rect x="70.00" y="298.80" width="10.30" height="34.50" fill="#1a4d8d" stroke="none" stroke-width="1"/>
<rect x="85.40" y="318.80" width="10.30" height="14.50" fill="#fbcd94" stroke="none" stroke-width="1"/>
<rect x="101.50" y="308.00" width="10.50" height="25.30" fill="#f39208" stroke="none" stroke-width="1"/>
<line x1="59.45" y1="312.00" x2="59.45" y2="309.80" stroke="#111" stroke-width="0.9"/>
<line x1="56.85" y1="309.80" x2="62.05" y2="309.80" stroke="#111" stroke-width="0.9"/>
<line x1="75.15" y1="298.80" x2="75.15" y2="294.20" stroke="#111" stroke-width="0.9"/>
<line x1="72.55" y1="294.20" x2="77.75" y2="294.20" stroke="#111" stroke-width="0.9"/>
<line x1="90.55" y1="318.80" x2="90.55" y2="316.80" stroke="#111" stroke-width="0.9"/>
<line x1="87.95" y1="316.80" x2="93.15" y2="316.80" stroke="#111" stroke-width="0.9"/>
<line x1="106.75" y1="308.00" x2="106.75" y2="306.00" stroke="#111" stroke-width="0.9"/>
<line x1="104.15" y1="306.00" x2="109.35" y2="306.00" stroke="#111" stroke-width="0.9"/>
<line x1="49.40" y1="268.80" x2="49.40" y2="334.00" stroke="#2b2b2b" stroke-width="1.4"/>
<line x1="48.70" y1="333.30" x2="118.50" y2="333.30" stroke="#2b2b2b" stroke-width="1.4"/>
<line x1="46.20" y1="270.00" x2="49.40" y2="270.00" stroke="#2b2b2b" stroke-width="1.0"/>
<text x="43.10" y="272.20" font-size="6.2" fill="#333" text-anchor="end">2.5</text>
<line x1="46.20" y1="282.60" x2="49.40" y2="282.60" stroke="#2b2b2b" stroke-width="1.0"/>
<text x="43.10" y="284.80" font-size="6.2" fill="#333" text-anchor="end">2</text>
<line x1="46.20" y1="295.20" x2="49.40" y2="295.20" stroke="#2b2b2b" stroke-width="1.0"/>
<text x="43.10" y="297.40" font-size="6.2" fill="#333" text-anchor="end">1.5</text>
<line x1="46.20" y1="307.80" x2="49.40" y2="307.80" stroke="#2b2b2b" stroke-width="1.0"/>
<text x="43.10" y="310.00" font-size="6.2" fill="#333" text-anchor="end">1</text>
<line x1="46.20" y1="320.50" x2="49.40" y2="320.50" stroke="#2b2b2b" stroke-width="1.0"/>
<text x="43.10" y="322.70" font-size="6.2" fill="#333" text-anchor="end">0.5</text>
<line x1="46.20" y1="333.20" x2="49.40" y2="333.20" stroke="#2b2b2b" stroke-width="1.0"/>
<text x="43.10" y="335.40" font-size="6.2" fill="#333" text-anchor="end">0</text>
<line x1="59.45" y1="333.30" x2="59.45" y2="335.90" stroke="#2b2b2b" stroke-width="1.0"/>
<line x1="75.15" y1="333.30" x2="75.15" y2="335.90" stroke="#2b2b2b" stroke-width="1.0"/>
<line x1="90.55" y1="333.30" x2="90.55" y2="335.90" stroke="#2b2b2b" stroke-width="1.0"/>
<line x1="106.75" y1="333.30" x2="106.75" y2="335.90" stroke="#2b2b2b" stroke-width="1.0"/>
<text x="29.00" y="300.60" font-size="6.6" fill="#333" text-anchor="middle" transform="rotate(-90 29.00 300.60)" textLength="49.6" lengthAdjust="spacingAndGlyphs">MFI BCL-2 (10<tspan dy="-2.4" font-size="4.5">&#8211;2</tspan><tspan dy="2.4">)</tspan></text>
<line x1="56.20" y1="275.30" x2="73.00" y2="275.30" stroke="#3a3a3a" stroke-width="1.2"/>
<text x="64.60" y="275.60" font-size="7.2" fill="#222" text-anchor="middle" letter-spacing="-0.3">**</text>
<line x1="90.80" y1="276.00" x2="107.00" y2="276.00" stroke="#3a3a3a" stroke-width="1.2"/>
<text x="98.90" y="276.30" font-size="7.2" fill="#222" text-anchor="middle" letter-spacing="-0.3">***</text>
<circle cx="58.50" cy="306.20" r="1.28" fill="#fff" stroke="#111" stroke-width="1.0"/>
<circle cx="56.00" cy="309.80" r="1.28" fill="#fff" stroke="#111" stroke-width="1.0"/>
<circle cx="59.00" cy="310.50" r="1.28" fill="#fff" stroke="#111" stroke-width="1.0"/>
<circle cx="62.00" cy="310.00" r="1.28" fill="#fff" stroke="#111" stroke-width="1.0"/>
<circle cx="63.50" cy="312.50" r="1.28" fill="#fff" stroke="#111" stroke-width="1.0"/>
<circle cx="56.50" cy="313.20" r="1.28" fill="#fff" stroke="#111" stroke-width="1.0"/>
<circle cx="60.00" cy="313.50" r="1.28" fill="#fff" stroke="#111" stroke-width="1.0"/>
<circle cx="75.40" cy="283.20" r="1.28" fill="#fff" stroke="#111" stroke-width="1.0"/>
<circle cx="72.50" cy="298.50" r="1.28" fill="#fff" stroke="#111" stroke-width="1.0"/>
<circle cx="75.00" cy="297.50" r="1.28" fill="#fff" stroke="#111" stroke-width="1.0"/>
<circle cx="78.00" cy="299.00" r="1.28" fill="#fff" stroke="#111" stroke-width="1.0"/>
<circle cx="71.50" cy="302.50" r="1.28" fill="#fff" stroke="#111" stroke-width="1.0"/>
<circle cx="79.00" cy="302.50" r="1.28" fill="#fff" stroke="#111" stroke-width="1.0"/>
<circle cx="75.50" cy="301.50" r="1.28" fill="#fff" stroke="#111" stroke-width="1.0"/>
<path d="M90.50,310.87 L92.17,313.92 L88.83,313.92 Z" fill="#fff" stroke="#111" stroke-width="1.0"/>
<path d="M87.50,315.67 L89.17,318.72 L85.83,318.72 Z" fill="#fff" stroke="#111" stroke-width="1.0"/>
<path d="M90.00,316.17 L91.67,319.22 L88.33,319.22 Z" fill="#fff" stroke="#111" stroke-width="1.0"/>
<path d="M92.50,315.17 L94.17,318.22 L90.83,318.22 Z" fill="#fff" stroke="#111" stroke-width="1.0"/>
<path d="M94.50,316.67 L96.17,319.72 L92.83,319.72 Z" fill="#fff" stroke="#111" stroke-width="1.0"/>
<path d="M89.00,318.17 L90.67,321.22 L87.33,321.22 Z" fill="#fff" stroke="#111" stroke-width="1.0"/>
<path d="M92.00,318.37 L93.67,321.42 L90.33,321.42 Z" fill="#fff" stroke="#111" stroke-width="1.0"/>
<path d="M103.50,304.37 L105.17,307.42 L101.83,307.42 Z" fill="#fff" stroke="#111" stroke-width="1.0"/>
<path d="M106.50,304.67 L108.17,307.72 L104.83,307.72 Z" fill="#fff" stroke="#111" stroke-width="1.0"/>
<path d="M109.50,304.17 L111.17,307.22 L107.83,307.22 Z" fill="#fff" stroke="#111" stroke-width="1.0"/>
<path d="M111.00,304.97 L112.67,308.02 L109.33,308.02 Z" fill="#fff" stroke="#111" stroke-width="1.0"/>
<path d="M106.50,312.67 L108.17,315.72 L104.83,315.72 Z" fill="#fff" stroke="#111" stroke-width="1.0"/>
<text x="61.75" y="344.60" font-size="6.4" fill="#333" text-anchor="end" transform="rotate(-45 61.75 344.60)" textLength="20.1" lengthAdjust="spacingAndGlyphs">Vehicle</text>
<text x="77.45" y="344.60" font-size="6.4" fill="#333" text-anchor="end" transform="rotate(-45 77.45 344.60)" textLength="12.5" lengthAdjust="spacingAndGlyphs">VEN</text>
<text x="92.85" y="344.60" font-size="6.4" fill="#333" text-anchor="end" transform="rotate(-45 92.85 344.60)" textLength="20.1" lengthAdjust="spacingAndGlyphs">Vehicle</text>
<text x="109.05" y="344.60" font-size="6.4" fill="#333" text-anchor="end" transform="rotate(-45 109.05 344.60)" textLength="12.5" lengthAdjust="spacingAndGlyphs">VEN</text>
<rect x="163.00" y="307.80" width="10.10" height="25.50" fill="#8f9dc7" stroke="none" stroke-width="1"/>
<rect x="179.30" y="293.10" width="10.10" height="40.20" fill="#1a4d8d" stroke="none" stroke-width="1"/>
<rect x="195.70" y="314.00" width="10.10" height="19.30" fill="#fbcd94" stroke="none" stroke-width="1"/>
<rect x="212.30" y="305.00" width="9.80" height="28.30" fill="#f39208" stroke="none" stroke-width="1"/>
<line x1="168.05" y1="307.80" x2="168.05" y2="306.00" stroke="#111" stroke-width="0.9"/>
<line x1="165.45" y1="306.00" x2="170.65" y2="306.00" stroke="#111" stroke-width="0.9"/>
<line x1="184.35" y1="293.10" x2="184.35" y2="287.90" stroke="#111" stroke-width="0.9"/>
<line x1="181.75" y1="287.90" x2="186.95" y2="287.90" stroke="#111" stroke-width="0.9"/>
<line x1="200.75" y1="314.00" x2="200.75" y2="312.50" stroke="#111" stroke-width="0.9"/>
<line x1="198.15" y1="312.50" x2="203.35" y2="312.50" stroke="#111" stroke-width="0.9"/>
<line x1="217.20" y1="305.00" x2="217.20" y2="302.30" stroke="#111" stroke-width="0.9"/>
<line x1="214.60" y1="302.30" x2="219.80" y2="302.30" stroke="#111" stroke-width="0.9"/>
<line x1="156.80" y1="268.80" x2="156.80" y2="334.00" stroke="#2b2b2b" stroke-width="1.4"/>
<line x1="156.10" y1="333.30" x2="224.50" y2="333.30" stroke="#2b2b2b" stroke-width="1.4"/>
<line x1="153.60" y1="270.20" x2="156.80" y2="270.20" stroke="#2b2b2b" stroke-width="1.0"/>
<text x="150.50" y="272.40" font-size="6.2" fill="#333" text-anchor="end">1.5</text>
<line x1="153.60" y1="291.10" x2="156.80" y2="291.10" stroke="#2b2b2b" stroke-width="1.0"/>
<text x="150.50" y="293.30" font-size="6.2" fill="#333" text-anchor="end">1</text>
<line x1="153.60" y1="312.20" x2="156.80" y2="312.20" stroke="#2b2b2b" stroke-width="1.0"/>
<text x="150.50" y="314.40" font-size="6.2" fill="#333" text-anchor="end">0.5</text>
<line x1="153.60" y1="333.20" x2="156.80" y2="333.20" stroke="#2b2b2b" stroke-width="1.0"/>
<text x="150.50" y="335.40" font-size="6.2" fill="#333" text-anchor="end">0</text>
<line x1="168.05" y1="333.30" x2="168.05" y2="335.90" stroke="#2b2b2b" stroke-width="1.0"/>
<line x1="184.35" y1="333.30" x2="184.35" y2="335.90" stroke="#2b2b2b" stroke-width="1.0"/>
<line x1="200.75" y1="333.30" x2="200.75" y2="335.90" stroke="#2b2b2b" stroke-width="1.0"/>
<line x1="217.20" y1="333.30" x2="217.20" y2="335.90" stroke="#2b2b2b" stroke-width="1.0"/>
<text x="137.30" y="300.40" font-size="6.6" fill="#333" text-anchor="middle" transform="rotate(-90 137.30 300.40)" textLength="51" lengthAdjust="spacingAndGlyphs">MFI MCL-1 (10<tspan dy="-2.4" font-size="4.5">&#8211;3</tspan><tspan dy="2.4">)</tspan></text>
<line x1="167.90" y1="275.10" x2="180.60" y2="275.10" stroke="#3a3a3a" stroke-width="1.2"/>
<text x="174.25" y="275.40" font-size="7.2" fill="#222" text-anchor="middle" letter-spacing="-0.3">***</text>
<line x1="200.20" y1="275.10" x2="214.40" y2="275.10" stroke="#3a3a3a" stroke-width="1.2"/>
<text x="207.30" y="275.40" font-size="7.2" fill="#222" text-anchor="middle" letter-spacing="-0.3">**</text>
<circle cx="164.50" cy="305.00" r="1.28" fill="#fff" stroke="#111" stroke-width="1.0"/>
<circle cx="167.50" cy="304.40" r="1.28" fill="#fff" stroke="#111" stroke-width="1.0"/>
<circle cx="170.50" cy="304.60" r="1.28" fill="#fff" stroke="#111" stroke-width="1.0"/>
<circle cx="173.50" cy="305.50" r="1.28" fill="#fff" stroke="#111" stroke-width="1.0"/>
<circle cx="165.50" cy="307.80" r="1.28" fill="#fff" stroke="#111" stroke-width="1.0"/>
<circle cx="168.50" cy="308.00" r="1.28" fill="#fff" stroke="#111" stroke-width="1.0"/>
<circle cx="172.00" cy="307.60" r="1.28" fill="#fff" stroke="#111" stroke-width="1.0"/>
<circle cx="184.20" cy="282.60" r="1.28" fill="#fff" stroke="#111" stroke-width="1.0"/>
<circle cx="184.20" cy="289.50" r="1.28" fill="#fff" stroke="#111" stroke-width="1.0"/>
<circle cx="181.80" cy="294.70" r="1.28" fill="#fff" stroke="#111" stroke-width="1.0"/>
<circle cx="187.80" cy="294.70" r="1.28" fill="#fff" stroke="#111" stroke-width="1.0"/>
<circle cx="184.20" cy="299.60" r="1.28" fill="#fff" stroke="#111" stroke-width="1.0"/>
<path d="M197.50,309.67 L199.17,312.72 L195.83,312.72 Z" fill="#fff" stroke="#111" stroke-width="1.0"/>
<path d="M200.50,308.67 L202.17,311.72 L198.83,311.72 Z" fill="#fff" stroke="#111" stroke-width="1.0"/>
<path d="M203.50,308.97 L205.17,312.02 L201.83,312.02 Z" fill="#fff" stroke="#111" stroke-width="1.0"/>
<path d="M206.00,309.67 L207.67,312.72 L204.33,312.72 Z" fill="#fff" stroke="#111" stroke-width="1.0"/>
<path d="M199.00,311.97 L200.67,315.02 L197.33,315.02 Z" fill="#fff" stroke="#111" stroke-width="1.0"/>
<path d="M202.50,312.17 L204.17,315.22 L200.83,315.22 Z" fill="#fff" stroke="#111" stroke-width="1.0"/>
<path d="M205.00,311.67 L206.67,314.72 L203.33,314.72 Z" fill="#fff" stroke="#111" stroke-width="1.0"/>
<path d="M216.90,293.37 L218.57,296.42 L215.23,296.42 Z" fill="#fff" stroke="#111" stroke-width="1.0"/>
<path d="M213.00,302.67 L214.67,305.72 L211.33,305.72 Z" fill="#fff" stroke="#111" stroke-width="1.0"/>
<path d="M216.00,301.97 L217.67,305.02 L214.33,305.02 Z" fill="#fff" stroke="#111" stroke-width="1.0"/>
<path d="M219.00,302.17 L220.67,305.22 L217.33,305.22 Z" fill="#fff" stroke="#111" stroke-width="1.0"/>
<path d="M222.00,302.97 L223.67,306.02 L220.33,306.02 Z" fill="#fff" stroke="#111" stroke-width="1.0"/>
<path d="M214.50,304.67 L216.17,307.72 L212.83,307.72 Z" fill="#fff" stroke="#111" stroke-width="1.0"/>
<path d="M220.00,304.67 L221.67,307.72 L218.33,307.72 Z" fill="#fff" stroke="#111" stroke-width="1.0"/>
<text x="170.35" y="344.60" font-size="6.4" fill="#333" text-anchor="end" transform="rotate(-45 170.35 344.60)" textLength="20.1" lengthAdjust="spacingAndGlyphs">Vehicle</text>
<text x="186.65" y="344.60" font-size="6.4" fill="#333" text-anchor="end" transform="rotate(-45 186.65 344.60)" textLength="12.5" lengthAdjust="spacingAndGlyphs">VEN</text>
<text x="203.05" y="344.60" font-size="6.4" fill="#333" text-anchor="end" transform="rotate(-45 203.05 344.60)" textLength="20.1" lengthAdjust="spacingAndGlyphs">Vehicle</text>
<text x="219.50" y="344.60" font-size="6.4" fill="#333" text-anchor="end" transform="rotate(-45 219.50 344.60)" textLength="12.5" lengthAdjust="spacingAndGlyphs">VEN</text>
<rect x="268.10" y="315.00" width="9.70" height="18.30" fill="#8f9dc7" stroke="none" stroke-width="1"/>
<rect x="283.50" y="303.80" width="9.70" height="29.50" fill="#1a4d8d" stroke="none" stroke-width="1"/>
<rect x="298.80" y="318.00" width="9.30" height="15.30" fill="#fbcd94" stroke="none" stroke-width="1"/>
<rect x="314.20" y="310.40" width="9.70" height="22.90" fill="#f39208" stroke="none" stroke-width="1"/>
<line x1="272.95" y1="315.00" x2="272.95" y2="313.00" stroke="#111" stroke-width="0.9"/>
<line x1="270.35" y1="313.00" x2="275.55" y2="313.00" stroke="#111" stroke-width="0.9"/>
<line x1="288.35" y1="303.80" x2="288.35" y2="298.00" stroke="#111" stroke-width="0.9"/>
<line x1="285.75" y1="298.00" x2="290.95" y2="298.00" stroke="#111" stroke-width="0.9"/>
<line x1="303.45" y1="318.00" x2="303.45" y2="316.00" stroke="#111" stroke-width="0.9"/>
<line x1="300.85" y1="316.00" x2="306.05" y2="316.00" stroke="#111" stroke-width="0.9"/>
<line x1="319.05" y1="310.40" x2="319.05" y2="305.30" stroke="#111" stroke-width="0.9"/>
<line x1="316.45" y1="305.30" x2="321.65" y2="305.30" stroke="#111" stroke-width="0.9"/>
<line x1="261.90" y1="268.80" x2="261.90" y2="334.00" stroke="#2b2b2b" stroke-width="1.4"/>
<line x1="261.20" y1="333.30" x2="329.50" y2="333.30" stroke="#2b2b2b" stroke-width="1.4"/>
<line x1="258.70" y1="270.40" x2="261.90" y2="270.40" stroke="#2b2b2b" stroke-width="1.0"/>
<text x="255.60" y="272.60" font-size="6.2" fill="#333" text-anchor="end">8</text>
<line x1="258.70" y1="286.20" x2="261.90" y2="286.20" stroke="#2b2b2b" stroke-width="1.0"/>
<text x="255.60" y="288.40" font-size="6.2" fill="#333" text-anchor="end">6</text>
<line x1="258.70" y1="301.90" x2="261.90" y2="301.90" stroke="#2b2b2b" stroke-width="1.0"/>
<text x="255.60" y="304.10" font-size="6.2" fill="#333" text-anchor="end">4</text>
<line x1="258.70" y1="317.30" x2="261.90" y2="317.30" stroke="#2b2b2b" stroke-width="1.0"/>
<text x="255.60" y="319.50" font-size="6.2" fill="#333" text-anchor="end">2</text>
<line x1="258.70" y1="333.20" x2="261.90" y2="333.20" stroke="#2b2b2b" stroke-width="1.0"/>
<text x="255.60" y="335.40" font-size="6.2" fill="#333" text-anchor="end">0</text>
<line x1="272.95" y1="333.30" x2="272.95" y2="335.90" stroke="#2b2b2b" stroke-width="1.0"/>
<line x1="288.35" y1="333.30" x2="288.35" y2="335.90" stroke="#2b2b2b" stroke-width="1.0"/>
<line x1="303.45" y1="333.30" x2="303.45" y2="335.90" stroke="#2b2b2b" stroke-width="1.0"/>
<line x1="319.05" y1="333.30" x2="319.05" y2="335.90" stroke="#2b2b2b" stroke-width="1.0"/>
<text x="247.20" y="300.40" font-size="6.6" fill="#333" text-anchor="middle" transform="rotate(-90 247.20 300.40)" textLength="51" lengthAdjust="spacingAndGlyphs">MFI BCL-XL (10<tspan dy="-2.4" font-size="4.5">&#8211;2</tspan><tspan dy="2.4">)</tspan></text>
<line x1="270.10" y1="275.30" x2="283.50" y2="275.30" stroke="#3a3a3a" stroke-width="1.2"/>
<text x="276.80" y="275.60" font-size="7.2" fill="#222" text-anchor="middle" letter-spacing="-0.3">*</text>
<line x1="299.90" y1="275.30" x2="315.30" y2="275.30" stroke="#3a3a3a" stroke-width="1.2"/>
<text x="307.60" y="272.80" font-size="6.8" fill="#333" text-anchor="middle">ns</text>
<circle cx="268.50" cy="310.40" r="1.28" fill="#fff" stroke="#111" stroke-width="1.0"/>
<circle cx="272.70" cy="310.40" r="1.28" fill="#fff" stroke="#111" stroke-width="1.0"/>
<circle cx="269.60" cy="314.20" r="1.28" fill="#fff" stroke="#111" stroke-width="1.0"/>
<circle cx="274.20" cy="314.20" r="1.28" fill="#fff" stroke="#111" stroke-width="1.0"/>
<circle cx="276.50" cy="316.50" r="1.28" fill="#fff" stroke="#111" stroke-width="1.0"/>
<circle cx="268.80" cy="318.50" r="1.28" fill="#fff" stroke="#111" stroke-width="1.0"/>
<path d="M272.70,310.87 L274.37,313.92 L271.03,313.92 Z" fill="#fff" stroke="#111" stroke-width="1.0"/>
<circle cx="288.10" cy="284.20" r="1.28" fill="#fff" stroke="#111" stroke-width="1.0"/>
<circle cx="283.90" cy="308.80" r="1.28" fill="#fff" stroke="#111" stroke-width="1.0"/>
<circle cx="288.10" cy="308.80" r="1.28" fill="#fff" stroke="#111" stroke-width="1.0"/>
<circle cx="292.70" cy="305.00" r="1.28" fill="#fff" stroke="#111" stroke-width="1.0"/>
<circle cx="292.70" cy="308.80" r="1.28" fill="#fff" stroke="#111" stroke-width="1.0"/>
<path d="M301.90,310.07 L303.57,313.12 L300.23,313.12 Z" fill="#fff" stroke="#111" stroke-width="1.0"/>
<path d="M305.00,310.07 L306.67,313.12 L303.33,313.12 Z" fill="#fff" stroke="#111" stroke-width="1.0"/>
<path d="M299.60,313.17 L301.27,316.22 L297.93,316.22 Z" fill="#fff" stroke="#111" stroke-width="1.0"/>
<path d="M302.70,313.17 L304.37,316.22 L301.03,316.22 Z" fill="#fff" stroke="#111" stroke-width="1.0"/>
<path d="M307.30,315.47 L308.97,318.52 L305.63,318.52 Z" fill="#fff" stroke="#111" stroke-width="1.0"/>
<path d="M299.60,316.97 L301.27,320.02 L297.93,320.02 Z" fill="#fff" stroke="#111" stroke-width="1.0"/>
<path d="M319.30,291.17 L320.97,294.22 L317.63,294.22 Z" fill="#111" stroke="#111" stroke-width="1.0"/>
<path d="M315.00,314.67 L316.67,317.72 L313.33,317.72 Z" fill="#fff" stroke="#111" stroke-width="1.0"/>
<path d="M319.30,312.37 L320.97,315.42 L317.63,315.42 Z" fill="#fff" stroke="#111" stroke-width="1.0"/>
<path d="M323.50,312.37 L325.17,315.42 L321.83,315.42 Z" fill="#fff" stroke="#111" stroke-width="1.0"/>
<path d="M315.80,310.07 L317.47,313.12 L314.13,313.12 Z" fill="#fff" stroke="#111" stroke-width="1.0"/>
<text x="275.25" y="344.60" font-size="6.4" fill="#333" text-anchor="end" transform="rotate(-45 275.25 344.60)" textLength="20.1" lengthAdjust="spacingAndGlyphs">Vehicle</text>
<text x="290.65" y="344.60" font-size="6.4" fill="#333" text-anchor="end" transform="rotate(-45 290.65 344.60)" textLength="12.5" lengthAdjust="spacingAndGlyphs">VEN</text>
<text x="305.75" y="344.60" font-size="6.4" fill="#333" text-anchor="end" transform="rotate(-45 305.75 344.60)" textLength="20.1" lengthAdjust="spacingAndGlyphs">Vehicle</text>
<text x="321.35" y="344.60" font-size="6.4" fill="#333" text-anchor="end" transform="rotate(-45 321.35 344.60)" textLength="12.5" lengthAdjust="spacingAndGlyphs">VEN</text>
<text x="344.30" y="265.90" font-size="12" fill="#111" font-weight="bold">E</text>
<text x="411.20" y="264.40" font-size="8.6" fill="#333" text-anchor="middle" textLength="50" lengthAdjust="spacingAndGlyphs">Serum ELISA</text>
<line x1="380.50" y1="269.30" x2="380.50" y2="334.10" stroke="#2b2b2b" stroke-width="1.4"/>
<line x1="379.80" y1="333.40" x2="440.50" y2="333.40" stroke="#2b2b2b" stroke-width="1.4"/>
<line x1="377.30" y1="270.00" x2="380.50" y2="270.00" stroke="#2b2b2b" stroke-width="1.0"/>
<text x="374.20" y="272.20" font-size="6.2" fill="#333" text-anchor="end">40</text>
<line x1="377.30" y1="285.80" x2="380.50" y2="285.80" stroke="#2b2b2b" stroke-width="1.0"/>
<text x="374.20" y="288.00" font-size="6.2" fill="#333" text-anchor="end">30</text>
<line x1="377.30" y1="301.60" x2="380.50" y2="301.60" stroke="#2b2b2b" stroke-width="1.0"/>
<text x="374.20" y="303.80" font-size="6.2" fill="#333" text-anchor="end">20</text>
<line x1="377.30" y1="317.40" x2="380.50" y2="317.40" stroke="#2b2b2b" stroke-width="1.0"/>
<text x="374.20" y="319.60" font-size="6.2" fill="#333" text-anchor="end">10</text>
<line x1="377.30" y1="333.20" x2="380.50" y2="333.20" stroke="#2b2b2b" stroke-width="1.0"/>
<text x="374.20" y="335.40" font-size="6.2" fill="#333" text-anchor="end">0</text>
<line x1="389.90" y1="333.40" x2="389.90" y2="336.00" stroke="#2b2b2b" stroke-width="1.0"/>
<line x1="403.60" y1="333.40" x2="403.60" y2="336.00" stroke="#2b2b2b" stroke-width="1.0"/>
<line x1="417.80" y1="333.40" x2="417.80" y2="336.00" stroke="#2b2b2b" stroke-width="1.0"/>
<line x1="431.80" y1="333.40" x2="431.80" y2="336.00" stroke="#2b2b2b" stroke-width="1.0"/>
<text x="361.20" y="300.90" font-size="7.0" fill="#333" text-anchor="middle" transform="rotate(-90 361.20 300.90)" textLength="34.2" lengthAdjust="spacingAndGlyphs">BAFF ng/ml</text>
<line x1="389.50" y1="273.40" x2="404.50" y2="273.40" stroke="#3a3a3a" stroke-width="1.2"/>
<text x="397.00" y="273.70" font-size="7.2" fill="#222" text-anchor="middle" letter-spacing="-0.3">***</text>
<line x1="419.90" y1="273.40" x2="431.50" y2="273.40" stroke="#3a3a3a" stroke-width="1.2"/>
<text x="425.70" y="270.90" font-size="6.8" fill="#333" text-anchor="middle">ns</text>
<circle cx="386.80" cy="315.60" r="1.70" fill="#fff" stroke="#2f62a6" stroke-width="0.9"/>
<circle cx="388.60" cy="313.10" r="1.70" fill="#fff" stroke="#2f62a6" stroke-width="0.9"/>
<circle cx="390.50" cy="311.50" r="1.70" fill="#fff" stroke="#2f62a6" stroke-width="0.9"/>
<circle cx="391.80" cy="312.80" r="1.70" fill="#fff" stroke="#2f62a6" stroke-width="0.9"/>
<circle cx="389.90" cy="314.40" r="1.70" fill="#fff" stroke="#2f62a6" stroke-width="0.9"/>
<circle cx="393.00" cy="315.00" r="1.70" fill="#fff" stroke="#2f62a6" stroke-width="0.9"/>
<circle cx="391.00" cy="315.60" r="1.70" fill="#fff" stroke="#2f62a6" stroke-width="0.9"/>
<circle cx="404.00" cy="280.60" r="1.70" fill="#fff" stroke="#2f62a6" stroke-width="0.9"/>
<circle cx="400.50" cy="295.60" r="1.70" fill="#fff" stroke="#2f62a6" stroke-width="0.9"/>
<circle cx="403.60" cy="296.90" r="1.70" fill="#fff" stroke="#2f62a6" stroke-width="0.9"/>
<circle cx="404.30" cy="299.40" r="1.70" fill="#fff" stroke="#2f62a6" stroke-width="0.9"/>
<circle cx="406.80" cy="301.30" r="1.70" fill="#fff" stroke="#2f62a6" stroke-width="0.9"/>
<circle cx="403.60" cy="301.30" r="1.70" fill="#fff" stroke="#2f62a6" stroke-width="0.9"/>
<circle cx="400.50" cy="303.50" r="1.70" fill="#fff" stroke="#2f62a6" stroke-width="0.9"/>
<path d="M415.50,319.86 L417.40,323.26 L413.60,323.26 Z" fill="#f7c77a" stroke="#e39b2c" stroke-width="0.9"/>
<path d="M418.00,317.36 L419.90,320.76 L416.10,320.76 Z" fill="#f7c77a" stroke="#e39b2c" stroke-width="0.9"/>
<path d="M420.50,319.86 L422.40,323.26 L418.60,323.26 Z" fill="#f7c77a" stroke="#e39b2c" stroke-width="0.9"/>
<path d="M417.40,320.46 L419.30,323.86 L415.50,323.86 Z" fill="#f7c77a" stroke="#e39b2c" stroke-width="0.9"/>
<path d="M429.30,316.46 L431.20,319.86 L427.40,319.86 Z" fill="#f7c77a" stroke="#e39b2c" stroke-width="0.9"/>
<path d="M431.80,316.06 L433.70,319.46 L429.90,319.46 Z" fill="#f7c77a" stroke="#e39b2c" stroke-width="0.9"/>
<path d="M435.50,313.56 L437.40,316.96 L433.60,316.96 Z" fill="#f7c77a" stroke="#e39b2c" stroke-width="0.9"/>
<path d="M434.90,315.46 L436.80,318.86 L433.00,318.86 Z" fill="#f7c77a" stroke="#e39b2c" stroke-width="0.9"/>
<path d="M431.80,320.76 L433.70,324.16 L429.90,324.16 Z" fill="#f7c77a" stroke="#e39b2c" stroke-width="0.9"/>
<line x1="385.40" y1="314.00" x2="394.40" y2="314.00" stroke="#2f62a6" stroke-width="1.0"/>
<line x1="389.90" y1="313.00" x2="389.90" y2="315.00" stroke="#2f62a6" stroke-width="0.9"/>
<line x1="387.70" y1="313.00" x2="392.10" y2="313.00" stroke="#2f62a6" stroke-width="0.9"/>
<line x1="387.70" y1="315.00" x2="392.10" y2="315.00" stroke="#2f62a6" stroke-width="0.9"/>
<line x1="399.10" y1="296.30" x2="408.10" y2="296.30" stroke="#2f62a6" stroke-width="1.0"/>
<line x1="403.60" y1="293.00" x2="403.60" y2="298.80" stroke="#2f62a6" stroke-width="0.9"/>
<line x1="401.40" y1="293.00" x2="405.80" y2="293.00" stroke="#2f62a6" stroke-width="0.9"/>
<line x1="401.40" y1="298.80" x2="405.80" y2="298.80" stroke="#2f62a6" stroke-width="0.9"/>
<line x1="413.30" y1="321.90" x2="422.30" y2="321.90" stroke="#5a2a14" stroke-width="1.0"/>
<line x1="417.80" y1="321.20" x2="417.80" y2="322.60" stroke="#5a2a14" stroke-width="0.9"/>
<line x1="415.60" y1="321.20" x2="420.00" y2="321.20" stroke="#5a2a14" stroke-width="0.9"/>
<line x1="415.60" y1="322.60" x2="420.00" y2="322.60" stroke="#5a2a14" stroke-width="0.9"/>
<line x1="427.30" y1="318.80" x2="436.30" y2="318.80" stroke="#5a2a14" stroke-width="1.0"/>
<line x1="431.80" y1="317.30" x2="431.80" y2="320.30" stroke="#5a2a14" stroke-width="0.9"/>
<line x1="429.60" y1="317.30" x2="434.00" y2="317.30" stroke="#5a2a14" stroke-width="0.9"/>
<line x1="429.60" y1="320.30" x2="434.00" y2="320.30" stroke="#5a2a14" stroke-width="0.9"/>
<text x="392.20" y="344.70" font-size="6.4" fill="#333" text-anchor="end" transform="rotate(-45 392.20 344.70)" textLength="20.1" lengthAdjust="spacingAndGlyphs">Vehicle</text>
<text x="405.90" y="344.70" font-size="6.4" fill="#333" text-anchor="end" transform="rotate(-45 405.90 344.70)" textLength="12.5" lengthAdjust="spacingAndGlyphs">VEN</text>
<text x="420.10" y="344.70" font-size="6.4" fill="#333" text-anchor="end" transform="rotate(-45 420.10 344.70)" textLength="20.1" lengthAdjust="spacingAndGlyphs">Vehicle</text>
<text x="434.10" y="344.70" font-size="6.4" fill="#333" text-anchor="end" transform="rotate(-45 434.10 344.70)" textLength="12.5" lengthAdjust="spacingAndGlyphs">VEN</text>
<circle cx="446.20" cy="271.20" r="1.70" fill="#fff" stroke="#2f62a6" stroke-width="1.0"/>
<text x="451.20" y="273.60" font-size="7" fill="#2c5896">wt</text>
<path d="M446.2,281.5 L448.2,285.2 L444.2,285.2 Z" fill="#fff" stroke="#d8921f" stroke-width="1.0"/>
<text x="451.20" y="286.20" font-size="6.8" fill="#f0a23a" textLength="40" lengthAdjust="spacingAndGlyphs"><tspan>Bak</tspan><tspan dy="-2.6" font-size="4.2">&#8211;/&#8211;</tspan><tspan dy="2.6">Bax</tspan><tspan dy="-2.6" font-size="4.2">&#916;cd23</tspan></text>
<text x="6.40" y="383.90" font-size="12" fill="#111" font-weight="bold">F</text>
<text x="55.00" y="381.60" font-size="8.8" fill="#222" textLength="120" lengthAdjust="spacingAndGlyphs">Daily oral gavage of Venetoclax</text>
<text x="16.50" y="392.20" font-size="6.8" fill="#333" textLength="10.8" lengthAdjust="spacingAndGlyphs">Day</text>
<text x="32.40" y="392.20" font-size="6.8" fill="#333" text-anchor="middle">1</text>
<text x="53.90" y="392.20" font-size="6.8" fill="#333" text-anchor="middle">2</text>
<text x="75.80" y="392.20" font-size="6.8" fill="#333" text-anchor="middle">3</text>
<text x="97.30" y="392.20" font-size="6.8" fill="#333" text-anchor="middle">4</text>
<text x="117.40" y="392.20" font-size="6.8" fill="#333" text-anchor="middle">5</text>
<text x="137.00" y="392.20" font-size="6.8" fill="#333" text-anchor="middle">6</text>
<text x="157.00" y="392.20" font-size="6.8" fill="#333" text-anchor="middle">7</text>
<text x="175.50" y="392.20" font-size="6.8" fill="#333" text-anchor="middle">8</text>
<line x1="32.40" y1="396.60" x2="32.40" y2="410.40" stroke="#333" stroke-width="1.1"/>
<line x1="53.90" y1="396.60" x2="53.90" y2="410.40" stroke="#333" stroke-width="1.1"/>
<line x1="75.80" y1="396.60" x2="75.80" y2="410.40" stroke="#333" stroke-width="1.1"/>
<line x1="97.30" y1="396.60" x2="97.30" y2="410.40" stroke="#333" stroke-width="1.1"/>
<line x1="117.40" y1="396.60" x2="117.40" y2="410.40" stroke="#333" stroke-width="1.1"/>
<line x1="137.00" y1="396.60" x2="137.00" y2="410.40" stroke="#333" stroke-width="1.1"/>
<line x1="157.00" y1="396.60" x2="157.00" y2="410.40" stroke="#333" stroke-width="1.1"/>
<line x1="175.50" y1="396.60" x2="175.50" y2="410.40" stroke="#333" stroke-width="1.1"/>
<rect x="32.40" y="399.60" width="85.40" height="7.70" fill="#dfe9f5" stroke="#333" stroke-width="0.9"/>
<text x="75.00" y="405.90" font-size="6.8" fill="#333" text-anchor="middle" textLength="39" lengthAdjust="spacingAndGlyphs">Free the niche</text>
<line x1="117.80" y1="403.20" x2="184.00" y2="403.20" stroke="#333" stroke-width="1.1"/>
<path d="M187.5,403.2 L183,401 L183,405.4 Z" fill="#333" stroke="none" stroke-width="0"/>
<text x="200.00" y="403.80" font-size="7" fill="#333" text-anchor="middle" textLength="18" lengthAdjust="spacingAndGlyphs">Tissue</text>
<text x="199.50" y="411.60" font-size="7" fill="#333" text-anchor="middle" textLength="29" lengthAdjust="spacingAndGlyphs">collection</text>
<text x="22.00" y="427.50" font-size="7" fill="#333" textLength="25" lengthAdjust="spacingAndGlyphs">CD45.1+</text>
<g transform="translate(17.80,432.20) scale(1.0,1.0)">
<path d="M0,8.3 C1,9.6 2.6,9.2 3.6,7.4 C4.5,5.8 6,4.7 7.9,5" fill="none" stroke="#222" stroke-width="1.0" stroke-linecap="round"/>
<path d="M9,10.4 C7.2,9.6 7,5.5 8.6,3.4 C10,1.5 12,0.9 14,0.9 C16,0.9 17.8,1.8 18.6,3 Q19.1,4 18.9,4.8 C18.5,2 19.8,0 21.8,0 C23.8,0 25.2,1.5 25,3.8 C25,5 25.8,6 26.6,6.8 L30.4,10.6 Z" fill="#fff" stroke="#222" stroke-width="1.0" stroke-linejoin="round"/>
<path d="M27.4,8.9 L28.2,10.5" fill="none" stroke="#222" stroke-width="0.8"/>
</g>
<line x1="51.00" y1="436.90" x2="93.30" y2="436.90" stroke="#222" stroke-width="1.0"/>
<path d="M96.80,436.90 L92.80,434.70 L92.80,439.10 Z" fill="#222" stroke="none" stroke-width="0"/>
<line x1="90.20" y1="426.70" x2="96.20" y2="434.00" stroke="#9a9a9a" stroke-width="1.3"/>
<g transform="translate(96.50,432.40) scale(1.0,1.0)">
<path d="M0,8.3 C1,9.6 2.6,9.2 3.6,7.4 C4.5,5.8 6,4.7 7.9,5" fill="none" stroke="#222" stroke-width="1.0" stroke-linecap="round"/>
<path d="M9,10.4 C7.2,9.6 7,5.5 8.6,3.4 C10,1.5 12,0.9 14,0.9 C16,0.9 17.8,1.8 18.6,3 Q19.1,4 18.9,4.8 C18.5,2 19.8,0 21.8,0 C23.8,0 25.2,1.5 25,3.8 C25,5 25.8,6 26.6,6.8 L30.4,10.6 Z" fill="#fff" stroke="#222" stroke-width="1.0" stroke-linejoin="round"/>
<path d="M27.4,8.9 L28.2,10.5" fill="none" stroke="#222" stroke-width="0.8"/>
</g>
<rect x="99" y="414.70" width="79.5" height="16.6" rx="2.6" fill="#fff" stroke="#444" stroke-width="0.9"/>
<text x="139.00" y="423.60" font-size="6.8" fill="#f0a23a" text-anchor="middle" textLength="36" lengthAdjust="spacingAndGlyphs"><tspan font-style="italic">Bak</tspan><tspan dy="-2.6" font-size="4.2">&#8211;/&#8211;</tspan><tspan dy="2.6" font-style="italic">Bax</tspan><tspan dy="-2.6" font-size="4.2">&#916;cd23</tspan></text>
<text x="139.00" y="430.80" font-size="6.8" fill="#f0a23a" text-anchor="middle" textLength="18" lengthAdjust="spacingAndGlyphs">B cells</text>
<text x="181.00" y="425.60" font-size="7" fill="#f0a23a" textLength="24.5" lengthAdjust="spacingAndGlyphs">CD45.2+</text>
<line x1="136.50" y1="436.90" x2="177.20" y2="436.90" stroke="#333" stroke-width="1.0"/>
<line x1="177.20" y1="435.00" x2="177.20" y2="438.80" stroke="#333" stroke-width="1.0"/>
<text x="22.00" y="460.00" font-size="7" fill="#333" textLength="25" lengthAdjust="spacingAndGlyphs">CD45.1+</text>
<g transform="translate(17.80,464.70) scale(1.0,1.0)">
<path d="M0,8.3 C1,9.6 2.6,9.2 3.6,7.4 C4.5,5.8 6,4.7 7.9,5" fill="none" stroke="#222" stroke-width="1.0" stroke-linecap="round"/>
<path d="M9,10.4 C7.2,9.6 7,5.5 8.6,3.4 C10,1.5 12,0.9 14,0.9 C16,0.9 17.8,1.8 18.6,3 Q19.1,4 18.9,4.8 C18.5,2 19.8,0 21.8,0 C23.8,0 25.2,1.5 25,3.8 C25,5 25.8,6 26.6,6.8 L30.4,10.6 Z" fill="#fff" stroke="#222" stroke-width="1.0" stroke-linejoin="round"/>
<path d="M27.4,8.9 L28.2,10.5" fill="none" stroke="#222" stroke-width="0.8"/>
</g>
<line x1="51.00" y1="469.40" x2="93.30" y2="469.40" stroke="#222" stroke-width="1.0"/>
<path d="M96.80,469.40 L92.80,467.20 L92.80,471.60 Z" fill="#222" stroke="none" stroke-width="0"/>
<line x1="90.20" y1="459.20" x2="96.20" y2="466.50" stroke="#9a9a9a" stroke-width="1.3"/>
<g transform="translate(96.50,464.90) scale(1.0,1.0)">
<path d="M0,8.3 C1,9.6 2.6,9.2 3.6,7.4 C4.5,5.8 6,4.7 7.9,5" fill="none" stroke="#222" stroke-width="1.0" stroke-linecap="round"/>
<path d="M9,10.4 C7.2,9.6 7,5.5 8.6,3.4 C10,1.5 12,0.9 14,0.9 C16,0.9 17.8,1.8 18.6,3 Q19.1,4 18.9,4.8 C18.5,2 19.8,0 21.8,0 C23.8,0 25.2,1.5 25,3.8 C25,5 25.8,6 26.6,6.8 L30.4,10.6 Z" fill="#fff" stroke="#222" stroke-width="1.0" stroke-linejoin="round"/>
<path d="M27.4,8.9 L28.2,10.5" fill="none" stroke="#222" stroke-width="0.8"/>
</g>
<rect x="99" y="447.20" width="79.5" height="16.6" rx="2.6" fill="#fff" stroke="#444" stroke-width="0.9"/>
<text x="139.00" y="456.10" font-size="6.8" fill="#4fae48" text-anchor="middle" textLength="67" lengthAdjust="spacingAndGlyphs"><tspan font-style="italic">Tnfrsf13c</tspan><tspan dy="-2.6" font-size="4.2">&#8211;/&#8211;</tspan><tspan font-style="italic" dy="2.6">Bak</tspan><tspan dy="-2.6" font-size="4.2">&#8211;/&#8211;</tspan><tspan dy="2.6" font-style="italic">Bax</tspan><tspan dy="-2.6" font-size="4.2">&#916;cd23</tspan></text>
<text x="139.00" y="463.30" font-size="6.8" fill="#4fae48" text-anchor="middle" textLength="18" lengthAdjust="spacingAndGlyphs">B cells</text>
<text x="181.00" y="458.10" font-size="7" fill="#4fae48" textLength="24.5" lengthAdjust="spacingAndGlyphs">CD45.2+</text>
<line x1="136.50" y1="471.80" x2="177.20" y2="471.80" stroke="#333" stroke-width="1.0"/>
<line x1="177.20" y1="469.90" x2="177.20" y2="473.70" stroke="#333" stroke-width="1.0"/>
<text x="228.40" y="383.90" font-size="12" fill="#111" font-weight="bold">G</text>
<clipPath id="g00"><rect x="265.3" y="378.3" width="60.89999999999998" height="42.30000000000001"/></clipPath>
<path d="M284.00,420.60 C285.05,420.00 288.60,419.63 290.30,417.00 C292.00,414.37 293.22,408.25 294.20,404.80 C295.18,401.35 295.62,398.23 296.20,396.30 C296.78,394.37 297.20,393.08 297.70,393.20 C298.20,393.32 298.65,394.30 299.20,397.00 C299.75,399.70 300.30,405.47 301.00,409.40 C301.70,413.33 303.00,418.73 303.40,420.60 Z" fill="#fbd3a6" stroke="#e58f25" stroke-width="1.1" stroke-linejoin="round" clip-path="url(#g00)"/>
<path d="M264.90,409.00 C266.32,408.93 270.72,409.30 273.40,408.60 C276.08,407.90 278.82,406.73 281.00,404.80 C283.18,402.87 285.08,399.83 286.50,397.00 C287.92,394.17 288.62,390.92 289.50,387.80 C290.38,384.68 291.22,380.27 291.80,378.30 C292.38,376.33 292.47,374.42 293.00,376.00 C293.53,377.58 294.22,384.03 295.00,387.80 C295.78,391.57 296.82,395.13 297.70,398.60 C298.58,402.07 299.25,406.87 300.30,408.60 C301.35,410.33 299.68,408.93 304.00,409.00 C308.32,409.07 322.50,409.00 326.20,409.00" fill="none" stroke="#f2a23c" stroke-width="1.15" stroke-linejoin="round" stroke-dasharray="2.3,2.2" clip-path="url(#g00)"/>
<rect x="265.30" y="378.30" width="60.90" height="42.30" fill="none" stroke="#333" stroke-width="1.5"/>
<clipPath id="g01"><rect x="335.2" y="378.3" width="60.5" height="42.30000000000001"/></clipPath>
<path d="M358.80,420.60 C359.43,419.50 361.57,417.43 362.60,414.00 C363.63,410.57 364.27,403.58 365.00,400.00 C365.73,396.42 366.37,392.50 367.00,392.50 C367.63,392.50 368.13,396.92 368.80,400.00 C369.47,403.08 369.85,407.57 371.00,411.00 C372.15,414.43 374.92,419.00 375.70,420.60 Z" fill="#fbd3a6" stroke="#e58f25" stroke-width="1.1" stroke-linejoin="round" clip-path="url(#g01)"/>
<path d="M334.90,409.00 C338.12,408.93 350.22,409.82 354.20,408.60 C358.18,407.38 357.58,404.90 358.80,401.70 C360.02,398.50 360.60,392.68 361.50,389.40 C362.40,386.12 363.37,382.27 364.20,382.00 C365.03,381.73 365.62,385.03 366.50,387.80 C367.38,390.57 368.35,395.52 369.50,398.60 C370.65,401.68 372.12,404.57 373.40,406.30 C374.68,408.03 373.48,408.55 377.20,409.00 C380.92,409.45 392.62,409.00 395.70,409.00" fill="none" stroke="#f2a23c" stroke-width="1.15" stroke-linejoin="round" stroke-dasharray="2.3,2.2" clip-path="url(#g01)"/>
<rect x="335.20" y="378.30" width="60.50" height="42.30" fill="none" stroke="#333" stroke-width="1.5"/>
<clipPath id="g02"><rect x="406.7" y="378.3" width="58.69999999999999" height="42.30000000000001"/></clipPath>
<path d="M417.00,420.60 C418.27,420.00 422.43,418.60 424.60,417.00 C426.77,415.40 428.60,413.55 430.00,411.00 C431.40,408.45 432.23,404.03 433.00,401.70 C433.77,399.37 434.07,397.90 434.60,397.00 C435.13,396.10 435.60,395.80 436.20,396.30 C436.80,396.80 437.57,397.30 438.20,400.00 C438.83,402.70 439.20,409.07 440.00,412.50 C440.80,415.93 442.50,419.25 443.00,420.60 Z" fill="#fbd3a6" stroke="#e58f25" stroke-width="1.1" stroke-linejoin="round" clip-path="url(#g02)"/>
<path d="M406.50,409.00 C408.75,408.93 416.72,409.30 420.00,408.60 C423.28,407.90 424.40,407.23 426.20,404.80 C428.00,402.37 429.67,397.08 430.80,394.00 C431.93,390.92 432.23,388.22 433.00,386.30 C433.77,384.38 434.62,382.25 435.40,382.50 C436.18,382.75 436.88,384.88 437.70,387.80 C438.52,390.72 439.28,396.53 440.30,400.00 C441.32,403.47 442.68,407.10 443.80,408.60 C444.92,410.10 443.40,408.93 447.00,409.00 C450.60,409.07 462.33,409.00 465.40,409.00" fill="none" stroke="#f2a23c" stroke-width="1.15" stroke-linejoin="round" stroke-dasharray="2.3,2.2" clip-path="url(#g02)"/>
<rect x="406.70" y="378.30" width="58.70" height="42.30" fill="none" stroke="#333" stroke-width="1.5"/>
<clipPath id="g10"><rect x="265.3" y="424.9" width="60.89999999999998" height="44.0"/></clipPath>
<path d="M267.20,468.90 C269.00,468.18 275.43,466.33 278.00,464.60 C280.57,462.87 281.18,460.80 282.60,458.50 C284.02,456.20 285.47,452.98 286.50,450.80 C287.53,448.62 288.05,446.57 288.80,445.40 C289.55,444.23 290.30,444.20 291.00,443.80 C291.70,443.40 292.22,442.63 293.00,443.00 C293.78,443.37 294.73,443.67 295.70,446.00 C296.67,448.33 297.78,453.90 298.80,457.00 C299.82,460.10 300.65,462.62 301.80,464.60 C302.95,466.58 305.05,468.18 305.70,468.90 Z" fill="#c7e6bd" stroke="#4aa043" stroke-width="1.1" stroke-linejoin="round" clip-path="url(#g10)"/>
<path d="M264.90,454.60 C267.08,454.08 274.78,453.17 278.00,451.50 C281.22,449.83 282.40,447.28 284.20,444.60 C286.00,441.92 287.33,438.22 288.80,435.40 C290.27,432.58 291.60,427.43 293.00,427.70 C294.40,427.97 295.87,433.67 297.20,437.00 C298.53,440.33 299.87,444.77 301.00,447.70 C302.13,450.63 303.00,453.38 304.00,454.60 C305.00,455.82 303.30,454.93 307.00,455.00 C310.70,455.07 323.00,455.00 326.20,455.00" fill="none" stroke="#4aa043" stroke-width="1.15" stroke-linejoin="round" stroke-dasharray="2.3,2.2" clip-path="url(#g10)"/>
<rect x="265.30" y="424.90" width="60.90" height="44.00" fill="none" stroke="#333" stroke-width="1.5"/>
<clipPath id="g11"><rect x="335.2" y="424.9" width="60.5" height="44.0"/></clipPath>
<path d="M356.50,468.90 C357.25,467.42 359.80,463.28 361.00,460.00 C362.20,456.72 362.92,452.28 363.70,449.20 C364.48,446.12 365.03,441.50 365.70,441.50 C366.37,441.50 366.82,446.37 367.70,449.20 C368.58,452.03 369.67,455.22 371.00,458.50 C372.33,461.78 374.92,467.17 375.70,468.90 Z" fill="#c7e6bd" stroke="#4aa043" stroke-width="1.1" stroke-linejoin="round" clip-path="url(#g11)"/>
<path d="M334.90,455.70 C338.37,455.65 351.60,456.48 355.70,455.40 C359.80,454.32 358.42,452.27 359.50,449.20 C360.58,446.13 361.37,440.45 362.20,437.00 C363.03,433.55 363.73,428.77 364.50,428.50 C365.27,428.23 365.97,432.20 366.80,435.40 C367.63,438.60 368.53,444.35 369.50,447.70 C370.47,451.05 371.52,454.17 372.60,455.50 C373.68,456.83 372.15,455.67 376.00,455.70 C379.85,455.73 392.42,455.70 395.70,455.70" fill="none" stroke="#4aa043" stroke-width="1.15" stroke-linejoin="round" stroke-dasharray="2.3,2.2" clip-path="url(#g11)"/>
<rect x="335.20" y="424.90" width="60.50" height="44.00" fill="none" stroke="#333" stroke-width="1.5"/>
<clipPath id="g12"><rect x="406.7" y="424.9" width="58.69999999999999" height="44.0"/></clipPath>
<path d="M420.00,468.90 C421.28,468.18 425.65,466.85 427.70,464.60 C429.75,462.35 431.02,458.33 432.30,455.40 C433.58,452.47 434.55,448.93 435.40,447.00 C436.25,445.07 436.68,443.43 437.40,443.80 C438.12,444.17 438.88,446.50 439.70,449.20 C440.52,451.90 441.25,456.72 442.30,460.00 C443.35,463.28 445.38,467.42 446.00,468.90 Z" fill="#c7e6bd" stroke="#4aa043" stroke-width="1.1" stroke-linejoin="round" clip-path="url(#g12)"/>
<path d="M406.50,454.20 C409.25,454.13 419.22,454.63 423.00,453.80 C426.78,452.97 427.53,451.75 429.20,449.20 C430.87,446.65 431.58,441.78 433.00,438.50 C434.42,435.22 436.33,429.50 437.70,429.50 C439.07,429.50 440.18,435.22 441.20,438.50 C442.22,441.78 443.00,446.62 443.80,449.20 C444.60,451.78 445.13,453.17 446.00,454.00 C446.87,454.83 445.77,454.17 449.00,454.20 C452.23,454.23 462.67,454.20 465.40,454.20" fill="none" stroke="#4aa043" stroke-width="1.15" stroke-linejoin="round" stroke-dasharray="2.3,2.2" clip-path="url(#g12)"/>
<rect x="406.70" y="424.90" width="58.70" height="44.00" fill="none" stroke="#333" stroke-width="1.5"/>
<text x="262.00" y="409.30" font-size="6.6" fill="#333" text-anchor="end" textLength="20.8" lengthAdjust="spacingAndGlyphs">Control</text>
<text x="262.00" y="420.00" font-size="6.6" fill="#333" text-anchor="end" textLength="11.5" lengthAdjust="spacingAndGlyphs">VEN</text>
<text x="262.00" y="455.40" font-size="6.6" fill="#333" text-anchor="end" textLength="20.8" lengthAdjust="spacingAndGlyphs">Control</text>
<text x="262.00" y="466.70" font-size="6.6" fill="#333" text-anchor="end" textLength="11.5" lengthAdjust="spacingAndGlyphs">VEN</text>
<text x="469.00" y="411.80" font-size="6.6" fill="#f0a23a" textLength="38" lengthAdjust="spacingAndGlyphs"><tspan font-style="italic">Bak</tspan><tspan dy="-2.4" font-size="4.0">&#8211;/&#8211;</tspan><tspan dy="2.4" font-style="italic">Bax</tspan><tspan dy="-2.4" font-size="4.0">&#916;cd23</tspan></text>
<text x="469.00" y="452.20" font-size="6.6" fill="#4fae48" font-style="italic" textLength="25" lengthAdjust="spacingAndGlyphs">Tnfrsf13c<tspan dy="-2.4" font-size="4">&#8211;/&#8211;</tspan></text>
<text x="469.00" y="460.20" font-size="6.6" fill="#4fae48" textLength="38" lengthAdjust="spacingAndGlyphs"><tspan font-style="italic">Bak</tspan><tspan dy="-2.4" font-size="4.0">&#8211;/&#8211;</tspan><tspan dy="2.4" font-style="italic">Bax</tspan><tspan dy="-2.4" font-size="4.0">&#916;cd23</tspan></text>
<line x1="265.30" y1="473.50" x2="321.30" y2="473.50" stroke="#222" stroke-width="1.2"/>
<path d="M325.20,473.50 L320.80,471.40 L320.80,475.60 Z" fill="#222" stroke="none" stroke-width="0"/>
<text x="325.60" y="483.60" font-size="7.4" fill="#333" text-anchor="end" textLength="16.4" lengthAdjust="spacingAndGlyphs">BCL-2</text>
<line x1="335.20" y1="473.50" x2="390.80" y2="473.50" stroke="#222" stroke-width="1.2"/>
<path d="M394.70,473.50 L390.30,471.40 L390.30,475.60 Z" fill="#222" stroke="none" stroke-width="0"/>
<text x="395.10" y="483.60" font-size="7.4" fill="#333" text-anchor="end" textLength="16.8" lengthAdjust="spacingAndGlyphs">MCL-1</text>
<line x1="406.70" y1="473.50" x2="460.50" y2="473.50" stroke="#222" stroke-width="1.2"/>
<path d="M464.40,473.50 L460.00,471.40 L460.00,475.60 Z" fill="#222" stroke="none" stroke-width="0"/>
<text x="464.80" y="483.60" font-size="7.4" fill="#333" text-anchor="end" textLength="18.5" lengthAdjust="spacingAndGlyphs">BCL-XL</text>
<text x="6.40" y="511.30" font-size="12" fill="#111" font-weight="bold">H</text>
<rect x="50.00" y="563.10" width="10.80" height="14.30" fill="#fbcd94" stroke="none" stroke-width="1"/>
<rect x="67.70" y="536.20" width="10.80" height="41.20" fill="#f39208" stroke="none" stroke-width="1"/>
<rect x="85.10" y="570.80" width="10.70" height="6.60" fill="#acd59c" stroke="none" stroke-width="1"/>
<rect x="102.80" y="571.50" width="10.70" height="5.90" fill="#3dab3a" stroke="none" stroke-width="1"/>
<line x1="55.40" y1="563.10" x2="55.40" y2="560.80" stroke="#111" stroke-width="0.9"/>
<line x1="52.80" y1="560.80" x2="58.00" y2="560.80" stroke="#111" stroke-width="0.9"/>
<line x1="73.10" y1="536.20" x2="73.10" y2="535.20" stroke="#111" stroke-width="0.9"/>
<line x1="70.50" y1="535.20" x2="75.70" y2="535.20" stroke="#111" stroke-width="0.9"/>
<line x1="90.45" y1="570.80" x2="90.45" y2="568.50" stroke="#111" stroke-width="0.9"/>
<line x1="87.85" y1="568.50" x2="93.05" y2="568.50" stroke="#111" stroke-width="0.9"/>
<line x1="108.15" y1="571.50" x2="108.15" y2="568.20" stroke="#111" stroke-width="0.9"/>
<line x1="105.55" y1="568.20" x2="110.75" y2="568.20" stroke="#111" stroke-width="0.9"/>
<line x1="43.30" y1="522.00" x2="43.30" y2="578.10" stroke="#2b2b2b" stroke-width="1.4"/>
<line x1="42.60" y1="577.40" x2="118.50" y2="577.40" stroke="#2b2b2b" stroke-width="1.4"/>
<line x1="40.10" y1="523.50" x2="43.30" y2="523.50" stroke="#2b2b2b" stroke-width="1.0"/>
<text x="37.00" y="525.70" font-size="6.2" fill="#333" text-anchor="end">4</text>
<line x1="40.10" y1="537.40" x2="43.30" y2="537.40" stroke="#2b2b2b" stroke-width="1.0"/>
<text x="37.00" y="539.60" font-size="6.2" fill="#333" text-anchor="end">3</text>
<line x1="40.10" y1="550.80" x2="43.30" y2="550.80" stroke="#2b2b2b" stroke-width="1.0"/>
<text x="37.00" y="553.00" font-size="6.2" fill="#333" text-anchor="end">2</text>
<line x1="40.10" y1="564.20" x2="43.30" y2="564.20" stroke="#2b2b2b" stroke-width="1.0"/>
<text x="37.00" y="566.40" font-size="6.2" fill="#333" text-anchor="end">1</text>
<line x1="40.10" y1="577.40" x2="43.30" y2="577.40" stroke="#2b2b2b" stroke-width="1.0"/>
<text x="37.00" y="579.60" font-size="6.2" fill="#333" text-anchor="end">0</text>
<line x1="55.40" y1="577.40" x2="55.40" y2="580.00" stroke="#2b2b2b" stroke-width="1.0"/>
<line x1="73.10" y1="577.40" x2="73.10" y2="580.00" stroke="#2b2b2b" stroke-width="1.0"/>
<line x1="90.45" y1="577.40" x2="90.45" y2="580.00" stroke="#2b2b2b" stroke-width="1.0"/>
<line x1="108.15" y1="577.40" x2="108.15" y2="580.00" stroke="#2b2b2b" stroke-width="1.0"/>
<text x="29.20" y="549.30" font-size="6.6" fill="#333" text-anchor="middle" transform="rotate(-90 29.20 549.30)" textLength="49.4" lengthAdjust="spacingAndGlyphs">MFI BCL-2 (10<tspan dy="-2.4" font-size="4.5">&#8211;2</tspan><tspan dy="2.4">)</tspan></text>
<line x1="55.10" y1="523.50" x2="73.10" y2="523.50" stroke="#3a3a3a" stroke-width="1.2"/>
<text x="64.10" y="523.80" font-size="7.2" fill="#222" text-anchor="middle" letter-spacing="-0.3">****</text>
<line x1="90.80" y1="523.50" x2="106.90" y2="523.50" stroke="#3a3a3a" stroke-width="1.2"/>
<text x="98.85" y="521.00" font-size="6.8" fill="#333" text-anchor="middle">ns</text>
<path d="M55.40,557.67 L57.07,560.72 L53.73,560.72 Z" fill="#fff" stroke="#111" stroke-width="1.0"/>
<path d="M51.50,559.67 L53.17,562.72 L49.83,562.72 Z" fill="#fff" stroke="#111" stroke-width="1.0"/>
<path d="M59.20,559.67 L60.87,562.72 L57.53,562.72 Z" fill="#fff" stroke="#111" stroke-width="1.0"/>
<path d="M53.80,561.67 L55.47,564.72 L52.13,564.72 Z" fill="#fff" stroke="#111" stroke-width="1.0"/>
<path d="M55.40,562.77 L57.07,565.82 L53.73,565.82 Z" fill="#fff" stroke="#111" stroke-width="1.0"/>
<path d="M53.10,565.17 L54.77,568.22 L51.43,568.22 Z" fill="#fff" stroke="#111" stroke-width="1.0"/>
<path d="M58.50,565.17 L60.17,568.22 L56.83,568.22 Z" fill="#fff" stroke="#111" stroke-width="1.0"/>
<path d="M68.50,533.37 L70.17,536.42 L66.83,536.42 Z" fill="#fff" stroke="#111" stroke-width="1.0"/>
<path d="M71.50,532.97 L73.17,536.02 L69.83,536.02 Z" fill="#fff" stroke="#111" stroke-width="1.0"/>
<path d="M74.50,533.17 L76.17,536.22 L72.83,536.22 Z" fill="#fff" stroke="#111" stroke-width="1.0"/>
<path d="M77.50,533.37 L79.17,536.42 L75.83,536.42 Z" fill="#fff" stroke="#111" stroke-width="1.0"/>
<path d="M69.00,536.17 L70.67,539.22 L67.33,539.22 Z" fill="#fff" stroke="#111" stroke-width="1.0"/>
<rect x="84.30" y="566.70" width="3.00" height="3.00" fill="#fff" stroke="#111" stroke-width="1.0"/>
<rect x="89.30" y="567.00" width="3.00" height="3.00" fill="#fff" stroke="#111" stroke-width="1.0"/>
<rect x="93.10" y="564.70" width="3.00" height="3.00" fill="#fff" stroke="#111" stroke-width="1.0"/>
<rect x="93.10" y="568.00" width="3.00" height="3.00" fill="#fff" stroke="#111" stroke-width="1.0"/>
<circle cx="90.00" cy="572.30" r="1.60" fill="#fff" stroke="#111" stroke-width="1.0"/>
<rect x="102.30" y="566.20" width="3.00" height="3.00" fill="#fff" stroke="#111" stroke-width="1.0"/>
<rect x="110.50" y="566.20" width="3.00" height="3.00" fill="#fff" stroke="#111" stroke-width="1.0"/>
<rect x="106.20" y="569.30" width="3.00" height="3.00" fill="#fff" stroke="#111" stroke-width="1.0"/>
<circle cx="107.70" cy="576.30" r="1.70" fill="#fff" stroke="#111" stroke-width="1.0"/>
<text x="57.70" y="588.00" font-size="6.4" fill="#333" text-anchor="end" transform="rotate(-45 57.70 588.00)" textLength="19.1" lengthAdjust="spacingAndGlyphs">Control</text>
<text x="75.40" y="588.00" font-size="6.4" fill="#333" text-anchor="end" transform="rotate(-45 75.40 588.00)" textLength="12.5" lengthAdjust="spacingAndGlyphs">VEN</text>
<text x="92.75" y="588.00" font-size="6.4" fill="#333" text-anchor="end" transform="rotate(-45 92.75 588.00)" textLength="19.1" lengthAdjust="spacingAndGlyphs">Control</text>
<text x="110.45" y="588.00" font-size="6.4" fill="#333" text-anchor="end" transform="rotate(-45 110.45 588.00)" textLength="12.5" lengthAdjust="spacingAndGlyphs">VEN</text>
<rect x="156.90" y="544.20" width="11.30" height="33.20" fill="#fbcd94" stroke="none" stroke-width="1"/>
<rect x="174.90" y="531.80" width="11.30" height="45.60" fill="#f39208" stroke="none" stroke-width="1"/>
<rect x="192.80" y="546.90" width="11.00" height="30.50" fill="#acd59c" stroke="none" stroke-width="1"/>
<rect x="210.80" y="530.00" width="10.30" height="47.40" fill="#3dab3a" stroke="none" stroke-width="1"/>
<line x1="162.55" y1="544.20" x2="162.55" y2="539.00" stroke="#111" stroke-width="0.9"/>
<line x1="159.95" y1="539.00" x2="165.15" y2="539.00" stroke="#111" stroke-width="0.9"/>
<line x1="180.55" y1="531.80" x2="180.55" y2="528.20" stroke="#111" stroke-width="0.9"/>
<line x1="177.95" y1="528.20" x2="183.15" y2="528.20" stroke="#111" stroke-width="0.9"/>
<line x1="180.55" y1="531.80" x2="180.55" y2="534.60" stroke="#111" stroke-width="0.9"/>
<line x1="198.30" y1="546.90" x2="198.30" y2="543.50" stroke="#111" stroke-width="0.9"/>
<line x1="195.70" y1="543.50" x2="200.90" y2="543.50" stroke="#111" stroke-width="0.9"/>
<line x1="215.95" y1="530.00" x2="215.95" y2="528.80" stroke="#111" stroke-width="0.9"/>
<line x1="213.35" y1="528.80" x2="218.55" y2="528.80" stroke="#111" stroke-width="0.9"/>
<line x1="151.20" y1="521.70" x2="151.20" y2="578.10" stroke="#2b2b2b" stroke-width="1.4"/>
<line x1="150.50" y1="577.40" x2="228.00" y2="577.40" stroke="#2b2b2b" stroke-width="1.4"/>
<line x1="148.00" y1="523.00" x2="151.20" y2="523.00" stroke="#2b2b2b" stroke-width="1.0"/>
<text x="144.90" y="525.20" font-size="6.2" fill="#333" text-anchor="end">5</text>
<line x1="148.00" y1="534.50" x2="151.20" y2="534.50" stroke="#2b2b2b" stroke-width="1.0"/>
<text x="144.90" y="536.70" font-size="6.2" fill="#333" text-anchor="end">4</text>
<line x1="148.00" y1="545.60" x2="151.20" y2="545.60" stroke="#2b2b2b" stroke-width="1.0"/>
<text x="144.90" y="547.80" font-size="6.2" fill="#333" text-anchor="end">3</text>
<line x1="148.00" y1="556.00" x2="151.20" y2="556.00" stroke="#2b2b2b" stroke-width="1.0"/>
<text x="144.90" y="558.20" font-size="6.2" fill="#333" text-anchor="end">2</text>
<line x1="148.00" y1="566.90" x2="151.20" y2="566.90" stroke="#2b2b2b" stroke-width="1.0"/>
<text x="144.90" y="569.10" font-size="6.2" fill="#333" text-anchor="end">1</text>
<line x1="148.00" y1="577.40" x2="151.20" y2="577.40" stroke="#2b2b2b" stroke-width="1.0"/>
<text x="144.90" y="579.60" font-size="6.2" fill="#333" text-anchor="end">0</text>
<line x1="162.55" y1="577.40" x2="162.55" y2="580.00" stroke="#2b2b2b" stroke-width="1.0"/>
<line x1="180.55" y1="577.40" x2="180.55" y2="580.00" stroke="#2b2b2b" stroke-width="1.0"/>
<line x1="198.30" y1="577.40" x2="198.30" y2="580.00" stroke="#2b2b2b" stroke-width="1.0"/>
<line x1="215.95" y1="577.40" x2="215.95" y2="580.00" stroke="#2b2b2b" stroke-width="1.0"/>
<text x="137.20" y="549.00" font-size="6.6" fill="#333" text-anchor="middle" transform="rotate(-90 137.20 549.00)" textLength="51.8" lengthAdjust="spacingAndGlyphs">MFI MCL-1 (10<tspan dy="-2.4" font-size="4.5">&#8211;2</tspan><tspan dy="2.4">)</tspan></text>
<line x1="162.30" y1="518.00" x2="180.80" y2="518.00" stroke="#3a3a3a" stroke-width="1.2"/>
<text x="171.55" y="518.30" font-size="7.2" fill="#222" text-anchor="middle" letter-spacing="-0.3">*</text>
<line x1="199.20" y1="518.90" x2="214.30" y2="518.90" stroke="#3a3a3a" stroke-width="1.2"/>
<text x="206.75" y="519.20" font-size="7.2" fill="#222" text-anchor="middle" letter-spacing="-0.3">***</text>
<path d="M162.60,532.27 L164.27,535.32 L160.93,535.32 Z" fill="#fff" stroke="#111" stroke-width="1.0"/>
<path d="M158.50,540.17 L160.17,543.22 L156.83,543.22 Z" fill="#fff" stroke="#111" stroke-width="1.0"/>
<path d="M161.50,539.67 L163.17,542.72 L159.83,542.72 Z" fill="#fff" stroke="#111" stroke-width="1.0"/>
<path d="M164.50,540.17 L166.17,543.22 L162.83,543.22 Z" fill="#fff" stroke="#111" stroke-width="1.0"/>
<path d="M167.50,540.37 L169.17,543.42 L165.83,543.42 Z" fill="#fff" stroke="#111" stroke-width="1.0"/>
<path d="M176.50,526.17 L178.17,529.22 L174.83,529.22 Z" fill="#fff" stroke="#111" stroke-width="1.0"/>
<path d="M185.40,526.67 L187.07,529.72 L183.73,529.72 Z" fill="#fff" stroke="#111" stroke-width="1.0"/>
<path d="M180.80,535.67 L182.47,538.72 L179.13,538.72 Z" fill="#fff" stroke="#111" stroke-width="1.0"/>
<rect x="197.00" y="538.00" width="3.00" height="3.00" fill="#fff" stroke="#111" stroke-width="1.0"/>
<rect x="193.10" y="544.50" width="3.00" height="3.00" fill="#fff" stroke="#111" stroke-width="1.0"/>
<rect x="201.30" y="544.50" width="3.00" height="3.00" fill="#fff" stroke="#111" stroke-width="1.0"/>
<rect x="197.00" y="541.50" width="3.00" height="3.00" fill="#fff" stroke="#111" stroke-width="1.0"/>
<rect x="210.00" y="527.50" width="3.00" height="3.00" fill="#fff" stroke="#111" stroke-width="1.0"/>
<rect x="214.70" y="528.00" width="3.00" height="3.00" fill="#fff" stroke="#111" stroke-width="1.0"/>
<rect x="218.80" y="529.00" width="3.00" height="3.00" fill="#fff" stroke="#111" stroke-width="1.0"/>
<rect x="210.00" y="531.00" width="3.00" height="3.00" fill="#fff" stroke="#111" stroke-width="1.0"/>
<text x="164.85" y="588.00" font-size="6.4" fill="#333" text-anchor="end" transform="rotate(-45 164.85 588.00)" textLength="19.1" lengthAdjust="spacingAndGlyphs">Control</text>
<text x="182.85" y="588.00" font-size="6.4" fill="#333" text-anchor="end" transform="rotate(-45 182.85 588.00)" textLength="12.5" lengthAdjust="spacingAndGlyphs">VEN</text>
<text x="200.60" y="588.00" font-size="6.4" fill="#333" text-anchor="end" transform="rotate(-45 200.60 588.00)" textLength="19.1" lengthAdjust="spacingAndGlyphs">Control</text>
<text x="218.25" y="588.00" font-size="6.4" fill="#333" text-anchor="end" transform="rotate(-45 218.25 588.00)" textLength="12.5" lengthAdjust="spacingAndGlyphs">VEN</text>
<rect x="270.50" y="563.80" width="11.20" height="13.60" fill="#fbcd94" stroke="none" stroke-width="1"/>
<rect x="287.80" y="571.20" width="11.10" height="6.20" fill="#f39208" stroke="none" stroke-width="1"/>
<rect x="306.20" y="548.50" width="10.40" height="28.90" fill="#acd59c" stroke="none" stroke-width="1"/>
<rect x="323.20" y="552.80" width="10.80" height="24.60" fill="#3dab3a" stroke="none" stroke-width="1"/>
<line x1="276.10" y1="563.80" x2="276.10" y2="560.50" stroke="#111" stroke-width="0.9"/>
<line x1="273.50" y1="560.50" x2="278.70" y2="560.50" stroke="#111" stroke-width="0.9"/>
<line x1="293.35" y1="571.20" x2="293.35" y2="566.50" stroke="#111" stroke-width="0.9"/>
<line x1="290.75" y1="566.50" x2="295.95" y2="566.50" stroke="#111" stroke-width="0.9"/>
<line x1="311.40" y1="548.50" x2="311.40" y2="543.50" stroke="#111" stroke-width="0.9"/>
<line x1="308.80" y1="543.50" x2="314.00" y2="543.50" stroke="#111" stroke-width="0.9"/>
<line x1="328.60" y1="552.80" x2="328.60" y2="551.00" stroke="#111" stroke-width="0.9"/>
<line x1="326.00" y1="551.00" x2="331.20" y2="551.00" stroke="#111" stroke-width="0.9"/>
<line x1="264.30" y1="521.70" x2="264.30" y2="578.10" stroke="#2b2b2b" stroke-width="1.4"/>
<line x1="263.60" y1="577.40" x2="340.50" y2="577.40" stroke="#2b2b2b" stroke-width="1.4"/>
<line x1="261.10" y1="523.90" x2="264.30" y2="523.90" stroke="#2b2b2b" stroke-width="1.0"/>
<text x="258.00" y="526.10" font-size="6.2" fill="#333" text-anchor="end">2</text>
<line x1="261.10" y1="537.30" x2="264.30" y2="537.30" stroke="#2b2b2b" stroke-width="1.0"/>
<text x="258.00" y="539.50" font-size="6.2" fill="#333" text-anchor="end">1.5</text>
<line x1="261.10" y1="550.40" x2="264.30" y2="550.40" stroke="#2b2b2b" stroke-width="1.0"/>
<text x="258.00" y="552.60" font-size="6.2" fill="#333" text-anchor="end">1</text>
<line x1="261.10" y1="563.80" x2="264.30" y2="563.80" stroke="#2b2b2b" stroke-width="1.0"/>
<text x="258.00" y="566.00" font-size="6.2" fill="#333" text-anchor="end">0.5</text>
<line x1="261.10" y1="577.20" x2="264.30" y2="577.20" stroke="#2b2b2b" stroke-width="1.0"/>
<text x="258.00" y="579.40" font-size="6.2" fill="#333" text-anchor="end">0</text>
<line x1="276.10" y1="577.40" x2="276.10" y2="580.00" stroke="#2b2b2b" stroke-width="1.0"/>
<line x1="293.35" y1="577.40" x2="293.35" y2="580.00" stroke="#2b2b2b" stroke-width="1.0"/>
<line x1="311.40" y1="577.40" x2="311.40" y2="580.00" stroke="#2b2b2b" stroke-width="1.0"/>
<line x1="328.60" y1="577.40" x2="328.60" y2="580.00" stroke="#2b2b2b" stroke-width="1.0"/>
<text x="244.40" y="549.50" font-size="6.6" fill="#333" text-anchor="middle" transform="rotate(-90 244.40 549.50)" textLength="50.7" lengthAdjust="spacingAndGlyphs">MFI BCL-XL (10<tspan dy="-2.4" font-size="4.5">&#8211;2</tspan><tspan dy="2.4">)</tspan></text>
<line x1="275.50" y1="521.10" x2="293.50" y2="521.10" stroke="#3a3a3a" stroke-width="1.2"/>
<text x="284.50" y="521.40" font-size="7.2" fill="#222" text-anchor="middle" letter-spacing="-0.3">*</text>
<line x1="310.90" y1="521.10" x2="327.80" y2="521.10" stroke="#3a3a3a" stroke-width="1.2"/>
<text x="319.35" y="521.40" font-size="7.2" fill="#222" text-anchor="middle" letter-spacing="-0.3">*</text>
<path d="M276.20,558.17 L277.87,561.22 L274.53,561.22 Z" fill="#fff" stroke="#111" stroke-width="1.0"/>
<path d="M271.50,561.17 L273.17,564.22 L269.83,564.22 Z" fill="#fff" stroke="#111" stroke-width="1.0"/>
<path d="M280.80,561.17 L282.47,564.22 L279.13,564.22 Z" fill="#fff" stroke="#111" stroke-width="1.0"/>
<path d="M276.20,565.87 L277.87,568.92 L274.53,568.92 Z" fill="#fff" stroke="#111" stroke-width="1.0"/>
<path d="M293.50,563.57 L295.17,566.62 L291.83,566.62 Z" fill="#fff" stroke="#111" stroke-width="1.0"/>
<path d="M293.50,570.47 L295.17,573.52 L291.83,573.52 Z" fill="#fff" stroke="#111" stroke-width="1.0"/>
<path d="M293.50,573.57 L295.17,576.62 L291.83,576.62 Z" fill="#fff" stroke="#111" stroke-width="1.0"/>
<rect x="309.70" y="537.40" width="3.00" height="3.00" fill="#fff" stroke="#111" stroke-width="1.0"/>
<rect x="309.70" y="544.20" width="3.00" height="3.00" fill="#fff" stroke="#111" stroke-width="1.0"/>
<rect x="305.10" y="547.30" width="3.00" height="3.00" fill="#fff" stroke="#111" stroke-width="1.0"/>
<rect x="314.00" y="547.30" width="3.00" height="3.00" fill="#fff" stroke="#111" stroke-width="1.0"/>
<circle cx="323.80" cy="552.80" r="1.50" fill="#fff" stroke="#111" stroke-width="1.0"/>
<circle cx="327.40" cy="551.20" r="1.50" fill="#fff" stroke="#111" stroke-width="1.0"/>
<circle cx="330.50" cy="551.20" r="1.50" fill="#fff" stroke="#111" stroke-width="1.0"/>
<circle cx="333.10" cy="551.20" r="1.50" fill="#fff" stroke="#111" stroke-width="1.0"/>
<text x="278.40" y="588.00" font-size="6.4" fill="#333" text-anchor="end" transform="rotate(-45 278.40 588.00)" textLength="19.1" lengthAdjust="spacingAndGlyphs">Control</text>
<text x="295.65" y="588.00" font-size="6.4" fill="#333" text-anchor="end" transform="rotate(-45 295.65 588.00)" textLength="12.5" lengthAdjust="spacingAndGlyphs">VEN</text>
<text x="313.70" y="588.00" font-size="6.4" fill="#333" text-anchor="end" transform="rotate(-45 313.70 588.00)" textLength="19.1" lengthAdjust="spacingAndGlyphs">Control</text>
<text x="330.90" y="588.00" font-size="6.4" fill="#333" text-anchor="end" transform="rotate(-45 330.90 588.00)" textLength="12.5" lengthAdjust="spacingAndGlyphs">VEN</text>
<path d="M115.80,612.26 L117.76,615.83 L113.84,615.83 Z" fill="#fff" stroke="#111" stroke-width="1.0"/>
<text x="120.80" y="616.60" font-size="6.6" fill="#f0a23a" textLength="39" lengthAdjust="spacingAndGlyphs"><tspan font-style="italic">Bak</tspan><tspan dy="-2.4" font-size="4.0">&#8211;/&#8211;</tspan><tspan dy="2.4" font-style="italic">Bax</tspan><tspan dy="-2.4" font-size="4.0">&#916;cd23</tspan></text>
<rect x="166.80" y="612.80" width="3.20" height="3.20" fill="#fff" stroke="#111" stroke-width="1.0"/>
<text x="174.00" y="616.60" font-size="6.6" fill="#4fae48" textLength="70" lengthAdjust="spacingAndGlyphs"><tspan font-style="italic">Tnfrsf13c</tspan><tspan dy="-2.4" font-size="4.0">&#8211;/&#8211;</tspan><tspan font-style="italic" dy="2.4">Bak</tspan><tspan dy="-2.4" font-size="4.0">&#8211;/&#8211;</tspan><tspan dy="2.4" font-style="italic">Bax</tspan><tspan dy="-2.4" font-size="4.0">&#916;cd23</tspan></text>
<text x="352.40" y="511.00" font-size="12" fill="#111" font-weight="bold">I</text>
<rect x="389.00" y="541.20" width="12.00" height="47.80" fill="#f39208" stroke="none" stroke-width="1"/>
<rect x="410.00" y="576.30" width="12.00" height="12.70" fill="#3dab3a" stroke="none" stroke-width="1"/>
<rect x="430.60" y="569.80" width="12.10" height="19.20" fill="#f39208" stroke="none" stroke-width="1"/>
<rect x="450.80" y="566.00" width="12.50" height="23.00" fill="#3dab3a" stroke="none" stroke-width="1"/>
<rect x="472.00" y="576.00" width="11.80" height="13.00" fill="#f39208" stroke="none" stroke-width="1"/>
<rect x="492.70" y="576.50" width="11.90" height="12.50" fill="#3dab3a" stroke="none" stroke-width="1"/>
<rect x="380.60" y="504.50" width="133.40" height="84.50" fill="none" stroke="#333" stroke-width="1.1"/>
<line x1="425.80" y1="504.50" x2="425.80" y2="589.00" stroke="#333" stroke-width="1.1"/>
<line x1="468.00" y1="504.50" x2="468.00" y2="589.00" stroke="#333" stroke-width="1.1"/>
<line x1="377.60" y1="504.50" x2="380.60" y2="504.50" stroke="#333" stroke-width="1.0"/>
<text x="374.60" y="506.70" font-size="6.2" fill="#333" text-anchor="end">5</text>
<line x1="377.60" y1="521.40" x2="380.60" y2="521.40" stroke="#333" stroke-width="1.0"/>
<text x="374.60" y="523.60" font-size="6.2" fill="#333" text-anchor="end">4</text>
<line x1="377.60" y1="538.30" x2="380.60" y2="538.30" stroke="#333" stroke-width="1.0"/>
<text x="374.60" y="540.50" font-size="6.2" fill="#333" text-anchor="end">3</text>
<line x1="377.60" y1="555.20" x2="380.60" y2="555.20" stroke="#333" stroke-width="1.0"/>
<text x="374.60" y="557.40" font-size="6.2" fill="#333" text-anchor="end">2</text>
<line x1="377.60" y1="572.10" x2="380.60" y2="572.10" stroke="#333" stroke-width="1.0"/>
<text x="374.60" y="574.30" font-size="6.2" fill="#333" text-anchor="end">1</text>
<line x1="377.60" y1="589.00" x2="380.60" y2="589.00" stroke="#333" stroke-width="1.0"/>
<text x="374.60" y="591.20" font-size="6.2" fill="#333" text-anchor="end">0</text>
<line x1="395.00" y1="589.00" x2="395.00" y2="591.80" stroke="#333" stroke-width="1.0"/>
<line x1="416.00" y1="589.00" x2="416.00" y2="591.80" stroke="#333" stroke-width="1.0"/>
<line x1="436.65" y1="589.00" x2="436.65" y2="591.80" stroke="#333" stroke-width="1.0"/>
<line x1="457.05" y1="589.00" x2="457.05" y2="591.80" stroke="#333" stroke-width="1.0"/>
<line x1="477.90" y1="589.00" x2="477.90" y2="591.80" stroke="#333" stroke-width="1.0"/>
<line x1="498.65" y1="589.00" x2="498.65" y2="591.80" stroke="#333" stroke-width="1.0"/>
<line x1="380.60" y1="572.10" x2="514.00" y2="572.10" stroke="#333" stroke-width="1.1" stroke-dasharray="3,2"/>
<line x1="395.00" y1="541.20" x2="395.00" y2="539.50" stroke="#111" stroke-width="0.9"/>
<line x1="392.40" y1="539.50" x2="397.60" y2="539.50" stroke="#111" stroke-width="0.9"/>
<line x1="416.00" y1="576.30" x2="416.00" y2="569.50" stroke="#111" stroke-width="0.9"/>
<line x1="413.40" y1="569.50" x2="418.60" y2="569.50" stroke="#111" stroke-width="0.9"/>
<line x1="416.00" y1="576.30" x2="416.00" y2="582.00" stroke="#111" stroke-width="0.9"/>
<line x1="436.65" y1="569.80" x2="436.65" y2="567.80" stroke="#111" stroke-width="0.9"/>
<line x1="434.05" y1="567.80" x2="439.25" y2="567.80" stroke="#111" stroke-width="0.9"/>
<line x1="457.05" y1="566.00" x2="457.05" y2="564.50" stroke="#111" stroke-width="0.9"/>
<line x1="454.45" y1="564.50" x2="459.65" y2="564.50" stroke="#111" stroke-width="0.9"/>
<line x1="477.90" y1="576.00" x2="477.90" y2="572.00" stroke="#111" stroke-width="0.9"/>
<line x1="475.30" y1="572.00" x2="480.50" y2="572.00" stroke="#111" stroke-width="0.9"/>
<line x1="498.65" y1="576.50" x2="498.65" y2="574.50" stroke="#111" stroke-width="0.9"/>
<line x1="496.05" y1="574.50" x2="501.25" y2="574.50" stroke="#111" stroke-width="0.9"/>
<path d="M391.00,539.97 L392.67,543.02 L389.33,543.02 Z" fill="#fff" stroke="#111" stroke-width="1.0"/>
<path d="M394.00,538.17 L395.67,541.22 L392.33,541.22 Z" fill="#fff" stroke="#111" stroke-width="1.0"/>
<path d="M397.50,537.97 L399.17,541.02 L395.83,541.02 Z" fill="#fff" stroke="#111" stroke-width="1.0"/>
<path d="M400.00,537.67 L401.67,540.72 L398.33,540.72 Z" fill="#fff" stroke="#111" stroke-width="1.0"/>
<rect x="410.40" y="568.40" width="3.20" height="3.20" fill="#fff" stroke="#111" stroke-width="1.0"/>
<rect x="416.90" y="574.40" width="3.20" height="3.20" fill="#fff" stroke="#111" stroke-width="1.0"/>
<rect x="419.90" y="566.90" width="3.20" height="3.20" fill="#fff" stroke="#111" stroke-width="1.0"/>
<rect x="413.90" y="572.90" width="3.20" height="3.20" fill="#fff" stroke="#111" stroke-width="1.0"/>
<circle cx="416.00" cy="587.30" r="1.70" fill="#fff" stroke="#111" stroke-width="0.9"/>
<path d="M432.00,566.17 L433.67,569.22 L430.33,569.22 Z" fill="#fff" stroke="#111" stroke-width="1.0"/>
<path d="M434.50,567.97 L436.17,571.02 L432.83,571.02 Z" fill="#fff" stroke="#111" stroke-width="1.0"/>
<path d="M437.50,568.17 L439.17,571.22 L435.83,571.22 Z" fill="#fff" stroke="#111" stroke-width="1.0"/>
<path d="M440.50,568.17 L442.17,571.22 L438.83,571.22 Z" fill="#fff" stroke="#111" stroke-width="1.0"/>
<path d="M432.00,569.67 L433.67,572.72 L430.33,572.72 Z" fill="#fff" stroke="#111" stroke-width="1.0"/>
<circle cx="452.00" cy="566.30" r="1.58" fill="#fff" stroke="#111" stroke-width="1.0"/>
<circle cx="455.00" cy="565.00" r="1.58" fill="#fff" stroke="#111" stroke-width="1.0"/>
<circle cx="458.50" cy="565.30" r="1.58" fill="#fff" stroke="#111" stroke-width="1.0"/>
<circle cx="461.50" cy="565.30" r="1.58" fill="#fff" stroke="#111" stroke-width="1.0"/>
<path d="M473.00,575.37 L474.67,578.42 L471.33,578.42 Z" fill="#fff" stroke="#111" stroke-width="1.0"/>
<path d="M476.00,573.67 L477.67,576.72 L474.33,576.72 Z" fill="#fff" stroke="#111" stroke-width="1.0"/>
<path d="M479.50,572.67 L481.17,575.72 L477.83,575.72 Z" fill="#fff" stroke="#111" stroke-width="1.0"/>
<path d="M482.00,574.67 L483.67,577.72 L480.33,577.72 Z" fill="#fff" stroke="#111" stroke-width="1.0"/>
<path d="M478.00,568.67 L479.67,571.72 L476.33,571.72 Z" fill="#fff" stroke="#111" stroke-width="1.0"/>
<circle cx="494.00" cy="576.00" r="1.58" fill="#fff" stroke="#111" stroke-width="1.0"/>
<circle cx="497.50" cy="574.50" r="1.58" fill="#fff" stroke="#111" stroke-width="1.0"/>
<circle cx="501.00" cy="574.50" r="1.58" fill="#fff" stroke="#111" stroke-width="1.0"/>
<circle cx="504.00" cy="574.00" r="1.58" fill="#fff" stroke="#111" stroke-width="1.0"/>
<text x="401.20" y="511.80" font-size="6.6" fill="#333" text-anchor="middle">BCL-2</text>
<text x="401.20" y="518.60" font-size="6.2" fill="#333" text-anchor="middle">**</text>
<text x="447.00" y="511.80" font-size="6.6" fill="#333" text-anchor="middle">MCL-1</text>
<text x="447.00" y="518.60" font-size="6.2" fill="#333" text-anchor="middle">*</text>
<text x="488.20" y="511.80" font-size="6.6" fill="#333" text-anchor="middle">BCL-XL</text>
<text x="488.20" y="517.60" font-size="6.2" fill="#333" text-anchor="middle">ns</text>
<text x="366.20" y="545.00" font-size="7.4" fill="#333" text-anchor="middle" transform="rotate(-90 366.20 545.00)" textLength="50" lengthAdjust="spacingAndGlyphs">Fold-change MFI</text>
<text x="397.80" y="601.60" font-size="7.0" fill="#333" text-anchor="end" transform="rotate(-45 397.80 601.60)" textLength="37.5" lengthAdjust="spacingAndGlyphs"><tspan>Bak</tspan><tspan dy="-2.6" font-size="4.4">&#8211;/&#8211;</tspan><tspan dy="2.6">Bax</tspan><tspan dy="-2.6" font-size="4.4">&#916;cd23</tspan></text>
<text x="418.80" y="601.60" font-size="7.0" fill="#333" text-anchor="end" transform="rotate(-45 418.80 601.60)" textLength="70" lengthAdjust="spacingAndGlyphs"><tspan>Tnfrsf13c</tspan><tspan dy="-2.6" font-size="4.4">&#8211;/&#8211;</tspan><tspan dy="2.6">Bak</tspan><tspan dy="-2.6" font-size="4.4">&#8211;/&#8211;</tspan><tspan dy="2.6">Bax</tspan><tspan dy="-2.6" font-size="4.4">&#916;cd23</tspan></text>
<text x="439.45" y="601.60" font-size="7.0" fill="#333" text-anchor="end" transform="rotate(-45 439.45 601.60)" textLength="37.5" lengthAdjust="spacingAndGlyphs"><tspan>Bak</tspan><tspan dy="-2.6" font-size="4.4">&#8211;/&#8211;</tspan><tspan dy="2.6">Bax</tspan><tspan dy="-2.6" font-size="4.4">&#916;cd23</tspan></text>
<text x="459.85" y="601.60" font-size="7.0" fill="#333" text-anchor="end" transform="rotate(-45 459.85 601.60)" textLength="70" lengthAdjust="spacingAndGlyphs"><tspan>Tnfrsf13c</tspan><tspan dy="-2.6" font-size="4.4">&#8211;/&#8211;</tspan><tspan dy="2.6">Bak</tspan><tspan dy="-2.6" font-size="4.4">&#8211;/&#8211;</tspan><tspan dy="2.6">Bax</tspan><tspan dy="-2.6" font-size="4.4">&#916;cd23</tspan></text>
<text x="480.70" y="601.60" font-size="7.0" fill="#333" text-anchor="end" transform="rotate(-45 480.70 601.60)" textLength="37.5" lengthAdjust="spacingAndGlyphs"><tspan>Bak</tspan><tspan dy="-2.6" font-size="4.4">&#8211;/&#8211;</tspan><tspan dy="2.6">Bax</tspan><tspan dy="-2.6" font-size="4.4">&#916;cd23</tspan></text>
<text x="501.45" y="601.60" font-size="7.0" fill="#333" text-anchor="end" transform="rotate(-45 501.45 601.60)" textLength="70" lengthAdjust="spacingAndGlyphs"><tspan>Tnfrsf13c</tspan><tspan dy="-2.6" font-size="4.4">&#8211;/&#8211;</tspan><tspan dy="2.6">Bak</tspan><tspan dy="-2.6" font-size="4.4">&#8211;/&#8211;</tspan><tspan dy="2.6">Bax</tspan><tspan dy="-2.6" font-size="4.4">&#916;cd23</tspan></text>
<line x1="0.00" y1="0.50" x2="520.00" y2="0.50" stroke="#3c3c3c" stroke-width="1"/>
<line x1="0.50" y1="0.00" x2="0.50" y2="658.00" stroke="#4a4a4a" stroke-width="1"/>
<line x1="519.50" y1="0.00" x2="519.50" y2="658.00" stroke="#6a6a6a" stroke-width="1"/>
<line x1="0.00" y1="657.50" x2="520.00" y2="657.50" stroke="#3c3c3c" stroke-width="1"/>
</svg>
</body></html>
